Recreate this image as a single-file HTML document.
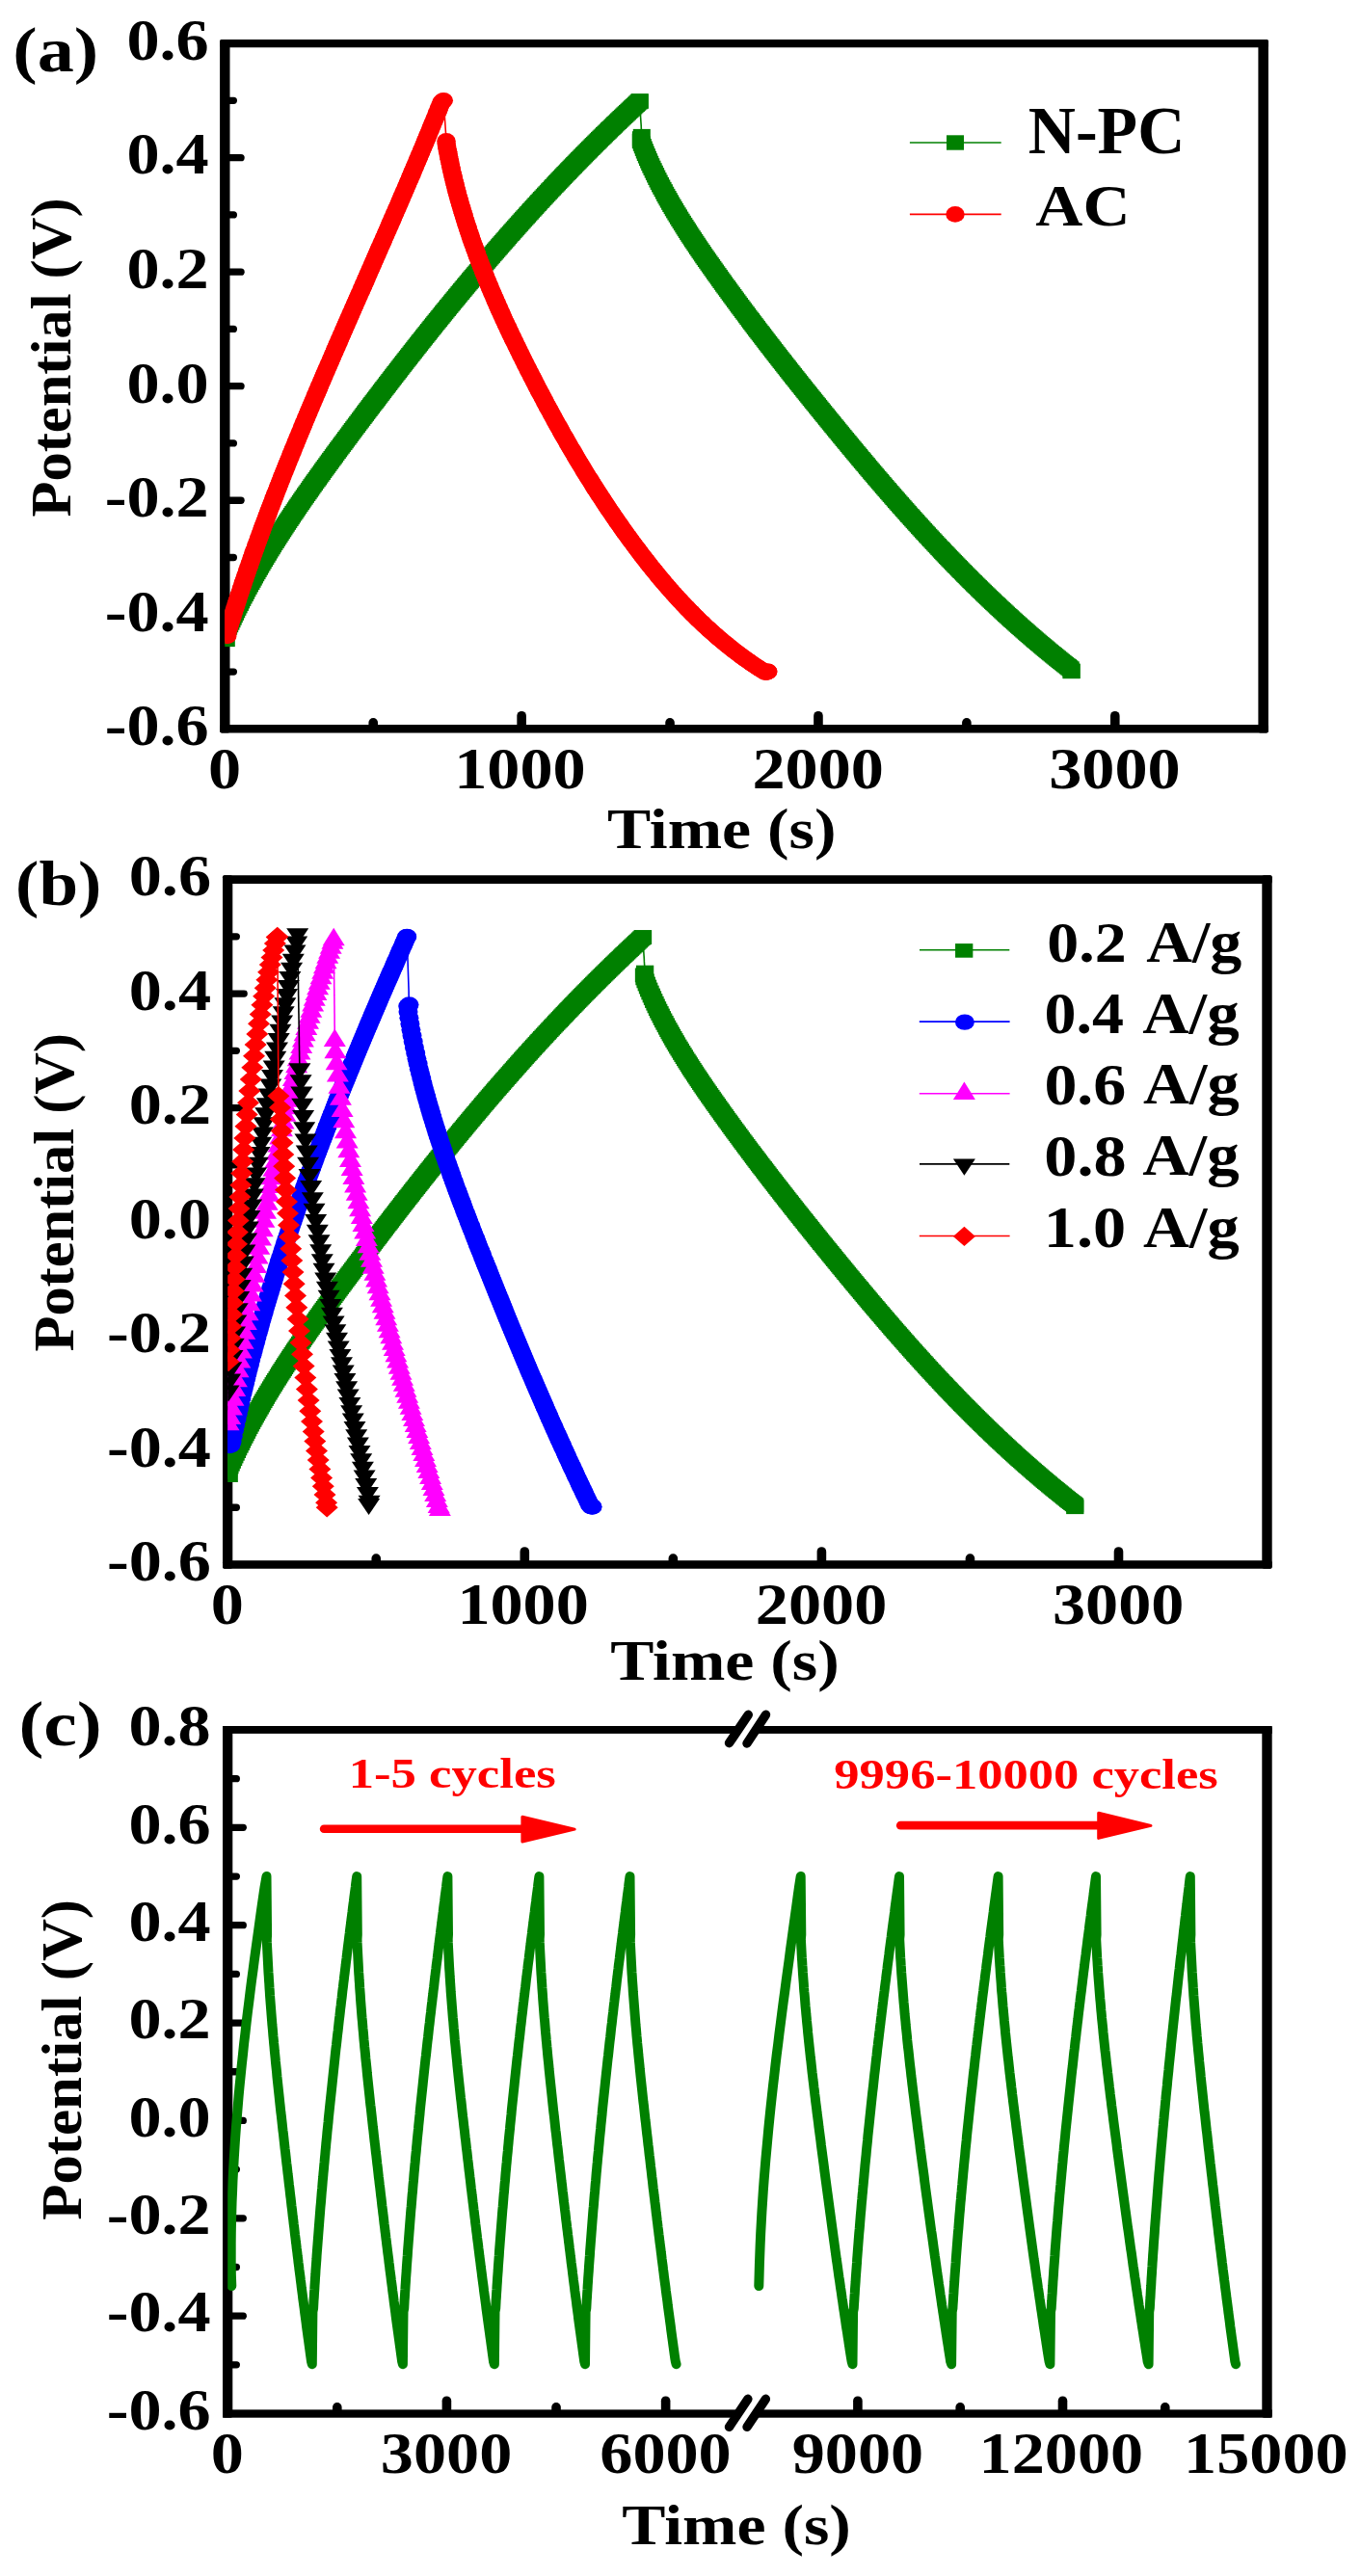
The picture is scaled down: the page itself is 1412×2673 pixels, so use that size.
<!DOCTYPE html><html><head><meta charset="utf-8"><title>GCD curves</title><style>html,body{margin:0;padding:0;background:#fff;}svg{display:block;}text{font-family:"Liberation Serif",serif;font-weight:bold;}</style></head><body><svg width="1412" height="2673" viewBox="0 0 1412 2673"><defs><marker id="mSqG" markerUnits="userSpaceOnUse" markerWidth="40" markerHeight="40" viewBox="-20 -20 40 40" refX="0" refY="0" overflow="visible"><rect x="-9.0" y="-7.7" width="18" height="15.4" fill="#008000"/></marker><marker id="mCiR" markerUnits="userSpaceOnUse" markerWidth="40" markerHeight="40" viewBox="-20 -20 40 40" refX="0" refY="0" overflow="visible"><ellipse cx="0" cy="0" rx="9.7" ry="8.3" fill="#FF0000"/></marker><marker id="mSqGb" markerUnits="userSpaceOnUse" markerWidth="40" markerHeight="40" viewBox="-20 -20 40 40" refX="0" refY="0" overflow="visible"><rect x="-9.15" y="-7.4" width="18.3" height="14.8" fill="#008000"/></marker><marker id="mCiB" markerUnits="userSpaceOnUse" markerWidth="40" markerHeight="40" viewBox="-20 -20 40 40" refX="0" refY="0" overflow="visible"><ellipse cx="0" cy="0" rx="10" ry="8.2" fill="#0000FF"/></marker><marker id="mTrM" markerUnits="userSpaceOnUse" markerWidth="40" markerHeight="40" viewBox="-20 -20 40 40" refX="0" refY="0" overflow="visible"><polygon points="0,-9.25 11.5,9.25 -11.5,9.25" fill="#FF00FF"/></marker><marker id="mTrK" markerUnits="userSpaceOnUse" markerWidth="40" markerHeight="40" viewBox="-20 -20 40 40" refX="0" refY="0" overflow="visible"><polygon points="0,8.6 11.5,-8.6 -11.5,-8.6" fill="#000000"/></marker><marker id="mDiR" markerUnits="userSpaceOnUse" markerWidth="40" markerHeight="40" viewBox="-20 -20 40 40" refX="0" refY="0" overflow="visible"><polygon points="0,-10.2 11.5,0 0,10.2 -11.5,0" fill="#FF0000"/></marker></defs>
<rect width="1412" height="2673" fill="#fff"/>
<g fill="#000">
<rect x="228.1" y="41.1" width="10.40" height="719.40" rx="2"/>
<rect x="1305.4" y="41.1" width="10.50" height="719.40" rx="2"/>
<rect x="228.1" y="41.1" width="1087.80" height="8.10" rx="2"/>
<rect x="228.1" y="752.0" width="1087.80" height="8.50" rx="2"/>
<rect x="231.0" y="908.2" width="10.30" height="719.50" rx="2"/>
<rect x="1309.3" y="908.2" width="10.40" height="719.50" rx="2"/>
<rect x="231.0" y="908.2" width="1088.70" height="8.80" rx="2"/>
<rect x="231.0" y="1619.3" width="1088.70" height="8.40" rx="2"/>
<rect x="231.0" y="1791.0" width="10.30" height="717.70" rx="2"/>
<rect x="1309.3" y="1791.0" width="10.40" height="717.70" rx="2"/>
<rect x="231.0" y="1791.0" width="535.50" height="7.90"/>
<rect x="784.5" y="1791.0" width="535.20" height="7.90"/>
<rect x="231.0" y="2500.4" width="535.50" height="8.30"/>
<rect x="784.5" y="2500.4" width="535.20" height="8.30"/>
</g>
<g stroke="#000" stroke-width="7.3" stroke-linecap="round"><line x1="236.5" y1="163.63" x2="250.05" y2="163.63"/><line x1="236.5" y1="282.17" x2="250.05" y2="282.17"/><line x1="236.5" y1="400.70" x2="250.05" y2="400.70"/><line x1="236.5" y1="519.23" x2="250.05" y2="519.23"/><line x1="236.5" y1="637.77" x2="250.05" y2="637.77"/><line x1="236.5" y1="104.37" x2="242.35" y2="104.37"/><line x1="236.5" y1="222.90" x2="242.35" y2="222.90"/><line x1="236.5" y1="341.43" x2="242.35" y2="341.43"/><line x1="236.5" y1="459.97" x2="242.35" y2="459.97"/><line x1="236.5" y1="578.50" x2="242.35" y2="578.50"/><line x1="236.5" y1="697.03" x2="242.35" y2="697.03"/></g>
<g stroke="#000" stroke-width="9.6" stroke-linecap="round"><line x1="541.13" y1="754.0" x2="541.13" y2="742.70"/><line x1="848.96" y1="754.0" x2="848.96" y2="742.70"/><line x1="1156.79" y1="754.0" x2="1156.79" y2="742.70"/><line x1="387.22" y1="754.0" x2="387.22" y2="749.80"/><line x1="695.05" y1="754.0" x2="695.05" y2="749.80"/><line x1="1002.88" y1="754.0" x2="1002.88" y2="749.80"/></g>
<g stroke="#000" stroke-width="7.3" stroke-linecap="round"><line x1="239.3" y1="1031.09" x2="253.15" y2="1031.09"/><line x1="239.3" y1="1149.57" x2="253.15" y2="1149.57"/><line x1="239.3" y1="1268.05" x2="253.15" y2="1268.05"/><line x1="239.3" y1="1386.53" x2="253.15" y2="1386.53"/><line x1="239.3" y1="1505.01" x2="253.15" y2="1505.01"/><line x1="239.3" y1="971.85" x2="245.35" y2="971.85"/><line x1="239.3" y1="1090.33" x2="245.35" y2="1090.33"/><line x1="239.3" y1="1208.81" x2="245.35" y2="1208.81"/><line x1="239.3" y1="1327.29" x2="245.35" y2="1327.29"/><line x1="239.3" y1="1445.77" x2="245.35" y2="1445.77"/><line x1="239.3" y1="1564.25" x2="245.35" y2="1564.25"/></g>
<g stroke="#000" stroke-width="9.6" stroke-linecap="round"><line x1="544.30" y1="1621.3" x2="544.30" y2="1610.00"/><line x1="852.40" y1="1621.3" x2="852.40" y2="1610.00"/><line x1="1160.50" y1="1621.3" x2="1160.50" y2="1610.00"/><line x1="390.25" y1="1621.3" x2="390.25" y2="1617.10"/><line x1="698.35" y1="1621.3" x2="698.35" y2="1617.10"/><line x1="1006.45" y1="1621.3" x2="1006.45" y2="1617.10"/></g>
<g stroke="#000" stroke-width="7.3" stroke-linecap="round"><line x1="239.3" y1="1896.36" x2="252.35" y2="1896.36"/><line x1="239.3" y1="1997.72" x2="252.35" y2="1997.72"/><line x1="239.3" y1="2099.08" x2="252.35" y2="2099.08"/><line x1="239.3" y1="2200.44" x2="252.35" y2="2200.44"/><line x1="239.3" y1="2301.80" x2="252.35" y2="2301.80"/><line x1="239.3" y1="2403.16" x2="252.35" y2="2403.16"/><line x1="239.3" y1="1845.68" x2="245.35" y2="1845.68"/><line x1="239.3" y1="1947.04" x2="245.35" y2="1947.04"/><line x1="239.3" y1="2048.40" x2="245.35" y2="2048.40"/><line x1="239.3" y1="2149.76" x2="245.35" y2="2149.76"/><line x1="239.3" y1="2251.12" x2="245.35" y2="2251.12"/><line x1="239.3" y1="2352.48" x2="245.35" y2="2352.48"/><line x1="239.3" y1="2453.84" x2="245.35" y2="2453.84"/></g>
<g stroke="#000" stroke-width="9.6" stroke-linecap="round"><line x1="463.42" y1="2502.4" x2="463.42" y2="2491.20"/><line x1="690.64" y1="2502.4" x2="690.64" y2="2491.20"/><line x1="889.90" y1="2502.4" x2="889.90" y2="2491.20"/><line x1="1102.50" y1="2502.4" x2="1102.50" y2="2491.20"/><line x1="349.81" y1="2502.4" x2="349.81" y2="2497.80"/><line x1="577.03" y1="2502.4" x2="577.03" y2="2497.80"/><line x1="996.20" y1="2502.4" x2="996.20" y2="2497.80"/><line x1="1208.80" y1="2502.4" x2="1208.80" y2="2497.80"/></g>
<g stroke="#000" stroke-width="9.4" stroke-linecap="round">
<line x1="756.5" y1="1808.7" x2="776.3" y2="1779.3"/>
<line x1="775" y1="1809" x2="794.5" y2="1779.3"/>
<line x1="756.5" y1="2518.4" x2="775.9" y2="2489.3"/>
<line x1="775" y1="2518.4" x2="794.4" y2="2489.3"/>
</g>
<defs><clipPath id="clipA"><rect x="233.3" y="45" width="1077.4" height="711.3"/></clipPath><clipPath id="clipB"><rect x="236.2" y="912.6" width="1078.3" height="710.9"/></clipPath><clipPath id="clipC"><rect x="236.2" y="1795" width="1078.3" height="709.5"/></clipPath></defs>
<g clip-path="url(#clipA)">
<polyline points="234.8,663.4 233.6,660.7 234.1,657.9 235.3,655.2 236.5,652.4 237.7,649.7 238.9,646.9 240.2,644.2 241.4,641.5 242.7,638.8 244.0,636.1 245.3,633.4 246.6,630.7 248.0,628.0 249.3,625.3 250.7,622.6 252.0,620.0 253.4,617.3 254.8,614.6 256.2,612.0 257.6,609.3 259.0,606.7 260.5,604.1 261.9,601.4 263.4,598.8 264.9,596.2 266.3,593.6 267.8,591.0 269.3,588.4 270.8,585.8 272.4,583.2 273.9,580.6 275.4,578.0 277.0,575.5 278.5,572.9 280.1,570.3 281.7,567.8 283.2,565.2 284.8,562.7 286.4,560.2 288.0,557.6 289.6,555.1 291.3,552.6 292.9,550.0 294.5,547.5 296.1,545.0 297.8,542.5 299.4,540.0 301.1,537.5 302.8,535.0 304.4,532.5 306.1,530.0 307.8,527.5 309.5,525.1 311.2,522.6 312.9,520.1 314.6,517.6 316.3,515.2 318.0,512.7 319.7,510.2 321.4,507.8 323.2,505.3 324.9,502.9 326.6,500.4 328.4,498.0 330.1,495.5 331.8,493.1 333.6,490.7 335.4,488.2 337.1,485.8 338.9,483.4 340.6,480.9 342.4,478.5 344.2,476.1 345.9,473.7 347.7,471.3 349.5,468.8 351.3,466.4 353.0,464.0 354.8,461.6 356.6,459.2 358.4,456.8 360.2,454.4 362.0,452.0 363.8,449.5 365.5,447.1 367.3,444.7 369.1,442.3 370.9,439.9 372.7,437.5 374.5,435.1 376.3,432.7 378.1,430.3 379.9,427.9 381.7,425.5 383.5,423.1 385.3,420.7 387.1,418.3 389.0,415.9 390.8,413.6 392.6,411.2 394.4,408.8 396.2,406.4 398.0,404.0 399.9,401.6 401.7,399.2 403.5,396.9 405.3,394.5 407.2,392.1 409.0,389.7 410.8,387.3 412.6,385.0 414.5,382.6 416.3,380.2 418.2,377.8 420.0,375.5 421.8,373.1 423.7,370.7 425.5,368.4 427.4,366.0 429.2,363.7 431.1,361.3 432.9,358.9 434.8,356.6 436.7,354.2 438.5,351.9 440.4,349.5 442.2,347.2 444.1,344.8 446.0,342.5 447.9,340.1 449.7,337.8 451.6,335.5 453.5,333.1 455.4,330.8 457.2,328.4 459.1,326.1 461.0,323.8 462.9,321.5 464.8,319.1 466.7,316.8 468.6,314.5 470.5,312.2 472.4,309.8 474.3,307.5 476.2,305.2 478.1,302.9 480.0,300.6 482.0,298.3 483.9,296.0 485.8,293.7 487.7,291.4 489.7,289.1 491.6,286.8 493.5,284.5 495.4,282.2 497.4,279.9 499.3,277.6 501.3,275.3 503.2,273.0 505.2,270.8 507.1,268.5 509.1,266.2 511.0,263.9 513.0,261.7 515.0,259.4 516.9,257.1 518.9,254.9 520.9,252.6 522.8,250.3 524.8,248.1 526.8,245.8 528.8,243.6 530.8,241.3 532.7,239.1 534.7,236.8 536.7,234.6 538.7,232.4 540.7,230.1 542.7,227.9 544.8,225.7 546.8,223.4 548.8,221.2 550.8,219.0 552.8,216.8 554.8,214.6 556.9,212.4 558.9,210.1 560.9,207.9 563.0,205.7 565.0,203.5 567.0,201.3 569.1,199.1 571.1,197.0 573.2,194.8 575.3,192.6 577.3,190.4 579.4,188.2 581.4,186.0 583.5,183.9 585.6,181.7 587.7,179.5 589.7,177.4 591.8,175.2 593.9,173.1 596.0,170.9 598.1,168.8 600.2,166.6 602.3,164.5 604.4,162.3 606.5,160.2 608.6,158.1 610.7,155.9 612.8,153.8 615.0,151.7 617.1,149.6 619.2,147.5 621.3,145.3 623.5,143.2 625.6,141.1 627.8,139.0 629.9,136.9 632.0,134.8 634.2,132.7 636.3,130.7 638.5,128.6 640.7,126.5 642.8,124.4 645.0,122.3 647.2,120.3 649.4,118.2 651.5,116.1 653.7,114.1 655.9,112.0 658.1,110.0 660.3,107.9 662.5,105.9 663.8,106.5 664.0,109.5 664.1,112.5 664.3,115.5 664.5,118.5 664.6,121.5 664.8,124.5 665.0,127.5 665.2,130.4 665.3,133.4 665.5,136.4 665.7,139.4 665.5,142.4 664.4,145.2 665.4,148.0 666.4,150.8 667.5,153.6 668.6,156.4 669.8,159.1 670.9,161.9 672.1,164.7 673.3,167.4 674.6,170.1 675.8,172.9 677.1,175.6 678.3,178.3 679.6,181.0 681.0,183.7 682.3,186.4 683.7,189.1 685.0,191.7 686.4,194.4 687.8,197.0 689.3,199.7 690.7,202.3 692.2,204.9 693.6,207.5 695.1,210.2 696.6,212.8 698.1,215.3 699.6,217.9 701.2,220.5 702.7,223.1 704.3,225.6 705.9,228.2 707.4,230.7 709.0,233.3 710.6,235.8 712.2,238.4 713.9,240.9 715.5,243.4 717.1,245.9 718.8,248.4 720.4,250.9 722.1,253.4 723.8,255.9 725.5,258.4 727.1,260.9 728.8,263.4 730.5,265.8 732.2,268.3 733.9,270.8 735.7,273.2 737.4,275.7 739.1,278.1 740.8,280.6 742.6,283.0 744.3,285.5 746.1,287.9 747.8,290.4 749.6,292.8 751.3,295.2 753.1,297.7 754.8,300.1 756.6,302.5 758.4,304.9 760.1,307.4 761.9,309.8 763.7,312.2 765.5,314.6 767.2,317.0 769.0,319.4 770.8,321.8 772.6,324.2 774.4,326.7 776.2,329.1 778.0,331.5 779.8,333.9 781.6,336.3 783.4,338.6 785.2,341.0 787.0,343.4 788.9,345.8 790.7,348.2 792.5,350.6 794.3,353.0 796.1,355.3 798.0,357.7 799.8,360.1 801.6,362.5 803.5,364.8 805.3,367.2 807.1,369.6 809.0,372.0 810.8,374.3 812.7,376.7 814.5,379.0 816.4,381.4 818.2,383.8 820.1,386.1 822.0,388.5 823.8,390.8 825.7,393.2 827.5,395.5 829.4,397.9 831.3,400.2 833.1,402.6 835.0,404.9 836.9,407.3 838.8,409.6 840.6,412.0 842.5,414.3 844.4,416.6 846.3,419.0 848.2,421.3 850.0,423.6 851.9,426.0 853.8,428.3 855.7,430.6 857.6,433.0 859.5,435.3 861.4,437.6 863.3,439.9 865.2,442.3 867.1,444.6 869.0,446.9 870.9,449.2 872.8,451.6 874.7,453.9 876.6,456.2 878.5,458.5 880.4,460.8 882.3,463.1 884.2,465.4 886.1,467.7 888.1,470.1 890.0,472.4 891.9,474.7 893.8,477.0 895.8,479.3 897.7,481.6 899.6,483.9 901.5,486.1 903.5,488.4 905.4,490.7 907.4,493.0 909.3,495.3 911.3,497.6 913.2,499.9 915.2,502.1 917.1,504.4 919.1,506.7 921.0,509.0 923.0,511.2 925.0,513.5 926.9,515.8 928.9,518.0 930.9,520.3 932.9,522.5 934.8,524.8 936.8,527.0 938.8,529.3 940.8,531.5 942.8,533.8 944.8,536.0 946.8,538.2 948.8,540.5 950.8,542.7 952.8,544.9 954.8,547.1 956.9,549.4 958.9,551.6 960.9,553.8 962.9,556.0 965.0,558.2 967.0,560.4 969.1,562.6 971.1,564.8 973.2,567.0 975.2,569.2 977.3,571.3 979.3,573.5 981.4,575.7 983.5,577.9 985.6,580.0 987.6,582.2 989.7,584.3 991.8,586.5 993.9,588.6 996.0,590.8 998.1,592.9 1000.2,595.1 1002.3,597.2 1004.4,599.3 1006.6,601.4 1008.7,603.6 1010.8,605.7 1013.0,607.8 1015.1,609.9 1017.2,612.0 1019.4,614.1 1021.5,616.2 1023.7,618.2 1025.9,620.3 1028.0,622.4 1030.2,624.5 1032.4,626.5 1034.6,628.6 1036.8,630.6 1039.0,632.7 1041.2,634.7 1043.4,636.7 1045.6,638.8 1047.8,640.8 1050.0,642.8 1052.2,644.8 1054.5,646.8 1056.7,648.8 1058.9,650.8 1061.2,652.8 1063.4,654.8 1065.7,656.8 1068.0,658.8 1070.2,660.7 1072.5,662.7 1074.8,664.6 1077.1,666.6 1079.3,668.5 1081.6,670.4 1083.9,672.4 1086.2,674.3 1088.6,676.2 1090.9,678.1 1093.2,680.0 1095.5,681.9 1097.8,683.8 1100.2,685.7 1102.5,687.5 1104.9,689.4 1107.2,691.3 1109.6,693.1 1111.6,695.2" fill="none" stroke="#008000" stroke-width="1.6"/><polyline points="234.8,663.4 233.8,661.1 233.8,658.6 234.9,656.1 236.0,653.6 237.1,651.0 238.2,648.5 239.4,646.0 240.5,643.5 241.7,641.0 242.8,638.5 244.0,636.1 245.2,633.6 246.4,631.1 247.6,628.7 248.9,626.2 250.1,623.7 251.3,621.3 252.6,618.8 253.9,616.4 255.2,614.0 256.4,611.5 257.7,609.1 259.0,606.7 260.4,604.3 261.6,602.1 262.8,599.9 264.0,597.7 265.2,595.5 266.5,593.4 267.7,591.2 269.0,589.0 270.2,586.9 271.5,584.7 272.7,582.6 274.0,580.4 275.3,578.3 276.6,576.1 277.9,574.0 279.2,571.8 280.5,569.7 281.8,567.6 283.1,565.5 284.4,563.3 285.8,561.2 287.1,559.1 288.3,557.2 289.5,555.3 290.7,553.4 291.9,551.5 293.2,549.6 294.4,547.7 295.6,545.8 296.8,544.0 298.1,542.1 299.3,540.2 300.6,538.3 301.8,536.5 303.0,534.6 304.3,532.7 305.6,530.9 306.8,529.0 308.1,527.1 309.3,525.3 310.6,523.4 311.9,521.5 313.2,519.7 314.4,517.8 315.7,516.0 317.0,514.1 318.3,512.3 319.6,510.5 320.9,508.6 322.2,506.8 323.4,504.9 324.7,503.1 326.0,501.3 327.3,499.4 328.7,497.6 330.0,495.8 331.3,493.9 332.6,492.1 333.9,490.3 335.2,488.4 336.5,486.6 337.8,484.8 339.2,483.0 340.5,481.1 341.8,479.3 343.1,477.5 344.5,475.7 345.8,473.9 347.1,472.1 348.4,470.2 349.8,468.4 351.1,466.6 352.4,464.8 353.8,463.0 355.1,461.2 356.5,459.4 357.8,457.6 359.1,455.8 360.5,454.0 361.8,452.2 363.2,450.3 364.5,448.5 365.8,446.7 367.2,444.9 368.5,443.1 369.9,441.3 371.2,439.5 372.6,437.7 373.9,435.9 375.3,434.1 376.6,432.3 377.8,430.7 379.0,429.1 380.2,427.5 381.4,425.9 382.6,424.3 383.8,422.7 385.0,421.1 386.2,419.5 387.5,417.9 388.7,416.3 389.9,414.8 391.1,413.2 392.3,411.6 393.5,410.0 394.7,408.4 395.9,406.8 397.1,405.2 398.3,403.6 399.6,402.0 400.8,400.4 402.0,398.8 403.2,397.3 404.4,395.7 405.6,394.1 406.8,392.5 408.1,390.9 409.3,389.3 410.5,387.7 411.7,386.2 413.0,384.6 414.2,383.0 415.4,381.4 416.6,379.8 417.8,378.2 419.1,376.7 420.3,375.1 421.5,373.5 422.8,371.9 424.0,370.4 425.2,368.8 426.5,367.2 427.7,365.6 428.9,364.1 430.2,362.5 431.4,360.9 432.6,359.3 433.9,357.8 435.1,356.2 436.3,354.6 437.6,353.1 438.8,351.5 440.1,349.9 441.3,348.3 442.6,346.8 443.8,345.2 445.0,343.7 446.3,342.1 447.5,340.5 448.8,339.0 450.0,337.4 451.3,335.8 452.5,334.3 453.8,332.7 455.1,331.2 456.3,329.6 457.6,328.1 458.8,326.5 460.1,324.9 461.3,323.4 462.6,321.8 463.9,320.3 465.1,318.7 466.4,317.2 467.7,315.6 468.9,314.1 470.2,312.5 471.5,311.0 472.7,309.5 474.0,307.9 475.3,306.4 476.5,304.8 477.8,303.3 479.1,301.7 480.4,300.2 481.6,298.7 482.9,297.1 484.2,295.6 485.5,294.0 486.8,292.5 488.0,291.0 489.3,289.4 490.6,287.9 491.9,286.4 493.2,284.9 494.5,283.3 495.8,281.8 497.1,280.3 498.4,278.7 499.7,277.2 500.9,275.7 502.2,274.2 503.5,272.7 504.8,271.1 506.1,269.6 507.4,268.1 508.7,266.6 510.0,265.1 511.4,263.5 512.7,262.0 514.0,260.5 515.3,259.0 516.6,257.5 517.9,256.0 519.2,254.5 520.5,253.0 521.8,251.5 523.2,250.0 524.5,248.5 525.8,247.0 527.1,245.4 528.4,243.9 529.8,242.4 531.1,241.0 532.4,239.5 533.7,238.0 535.1,236.5 536.4,235.0 537.7,233.5 539.1,232.0 540.4,230.5 541.7,229.0 543.1,227.5 544.4,226.0 545.8,224.6 547.1,223.1 548.4,221.6 549.8,220.1 551.1,218.6 552.5,217.1 553.8,215.7 555.2,214.2 556.5,212.7 557.9,211.2 559.2,209.8 560.6,208.3 561.9,206.8 563.3,205.4 564.7,203.9 566.0,202.4 567.4,201.0 568.8,199.5 570.1,198.0 571.5,196.6 572.9,195.1 574.2,193.7 575.6,192.2 576.8,190.9 578.0,189.7 579.2,188.4 580.4,187.1 581.6,185.9 582.8,184.6 584.0,183.3 585.2,182.1 586.4,180.8 587.7,179.5 588.9,178.3 590.1,177.0 591.3,175.8 592.5,174.5 593.7,173.2 595.0,172.0 596.2,170.7 597.4,169.5 598.6,168.2 599.8,167.0 601.1,165.7 602.3,164.5 603.5,163.2 604.7,162.0 606.0,160.7 607.2,159.5 608.4,158.2 609.7,157.0 610.9,155.8 612.1,154.5 613.4,153.3 614.6,152.0 615.8,150.8 617.1,149.6 618.3,148.3 619.6,147.1 620.8,145.9 622.0,144.6 623.3,143.4 624.5,142.2 625.8,141.0 627.0,139.7 628.3,138.5 629.5,137.3 630.8,136.1 632.0,134.8 633.3,133.6 634.6,132.4 635.8,131.2 637.1,130.0 638.3,128.7 639.6,127.5 640.9,126.3 642.1,125.1 643.4,123.9 644.6,122.7 645.9,121.5 647.2,120.3 648.4,119.1 649.7,117.9 651.0,116.7 652.3,115.5 653.5,114.3 654.8,113.1 656.1,111.9 657.4,110.7 658.6,109.5 659.9,108.3 661.2,107.1 662.5,105.9 663.7,105.0 663.7,105.0 665.8,141.6 664.9,143.9 664.8,146.5 665.8,149.1 666.8,151.6 667.8,154.2 668.8,156.8 669.8,159.3 670.9,161.8 672.0,164.4 673.1,166.9 674.2,169.4 675.3,171.9 676.5,174.4 677.7,176.9 678.9,179.4 680.1,181.8 681.3,184.3 682.5,186.8 683.7,189.2 685.0,191.7 686.3,194.1 687.6,196.5 688.9,198.9 690.2,201.4 691.4,203.6 692.6,205.7 693.8,207.9 695.1,210.1 696.3,212.3 697.6,214.4 698.8,216.6 700.1,218.7 701.4,220.9 702.7,223.0 704.0,225.1 705.3,227.3 706.6,229.4 707.9,231.5 709.3,233.6 710.5,235.6 711.7,237.5 712.9,239.3 714.1,241.2 715.3,243.1 716.5,245.0 717.8,246.9 719.0,248.8 720.3,250.6 721.5,252.5 722.8,254.4 724.0,256.3 725.3,258.1 726.5,260.0 727.8,261.8 729.1,263.7 730.3,265.6 731.6,267.4 732.9,269.3 734.2,271.1 735.5,273.0 736.8,274.8 738.1,276.6 739.4,278.5 740.7,280.3 742.0,282.2 743.3,284.0 744.6,285.8 745.9,287.6 747.2,289.5 748.5,291.3 749.8,293.1 751.1,295.0 752.4,296.8 753.8,298.6 755.1,300.4 756.4,302.2 757.7,304.1 759.1,305.9 760.4,307.7 761.7,309.5 763.0,311.3 764.4,313.1 765.7,315.0 767.0,316.8 768.4,318.6 769.7,320.4 771.1,322.2 772.4,324.0 773.8,325.8 775.1,327.6 776.4,329.4 777.8,331.2 779.0,332.8 780.2,334.4 781.4,336.0 782.6,337.6 783.8,339.2 785.0,340.8 786.2,342.4 787.4,344.0 788.7,345.6 789.9,347.1 791.1,348.7 792.3,350.3 793.5,351.9 794.7,353.5 795.9,355.1 797.2,356.7 798.4,358.3 799.6,359.8 800.8,361.4 802.0,363.0 803.3,364.6 804.5,366.2 805.7,367.8 806.9,369.3 808.2,370.9 809.4,372.5 810.6,374.1 811.9,375.6 813.1,377.2 814.3,378.8 815.6,380.4 816.8,381.9 818.0,383.5 819.3,385.1 820.5,386.7 821.7,388.2 823.0,389.8 824.2,391.4 825.5,392.9 826.7,394.5 828.0,396.1 829.2,397.6 830.4,399.2 831.7,400.8 832.9,402.3 834.2,403.9 835.4,405.5 836.7,407.0 837.9,408.6 839.2,410.1 840.4,411.7 841.7,413.3 842.9,414.8 844.2,416.4 845.4,417.9 846.7,419.5 848.0,421.0 849.2,422.6 850.5,424.2 851.7,425.7 853.0,427.3 854.2,428.8 855.5,430.4 856.8,431.9 858.0,433.5 859.3,435.0 860.5,436.6 861.8,438.1 863.1,439.7 864.3,441.2 865.6,442.8 866.9,444.3 868.1,445.9 869.4,447.4 870.7,449.0 871.9,450.5 873.2,452.1 874.5,453.6 875.7,455.2 877.0,456.7 878.3,458.2 879.6,459.8 880.8,461.3 882.1,462.9 883.4,464.4 884.7,466.0 885.9,467.5 887.2,469.0 888.5,470.6 889.8,472.1 891.1,473.6 892.3,475.2 893.6,476.7 894.9,478.2 896.2,479.8 897.5,481.3 898.8,482.8 900.0,484.4 901.3,485.9 902.6,487.4 903.9,489.0 905.2,490.5 906.5,492.0 907.8,493.5 909.1,495.1 910.4,496.6 911.7,498.1 913.0,499.6 914.3,501.1 915.6,502.7 916.9,504.2 918.2,505.7 919.5,507.2 920.8,508.7 922.1,510.2 923.4,511.7 924.7,513.2 926.1,514.8 927.4,516.3 928.7,517.8 930.0,519.3 931.3,520.8 932.6,522.3 934.0,523.8 935.3,525.3 936.6,526.8 937.9,528.3 939.3,529.8 940.6,531.3 941.9,532.8 943.2,534.3 944.6,535.8 945.9,537.2 947.2,538.7 948.6,540.2 949.9,541.7 951.3,543.2 952.6,544.7 954.0,546.2 955.3,547.6 956.6,549.1 958.0,550.6 959.3,552.1 960.7,553.5 962.0,555.0 963.4,556.5 964.8,558.0 966.1,559.4 967.5,560.9 968.8,562.3 970.2,563.8 971.6,565.3 972.9,566.7 974.3,568.2 975.7,569.6 976.9,570.9 978.1,572.2 979.3,573.5 980.5,574.7 981.7,576.0 982.9,577.3 984.1,578.5 985.3,579.8 986.5,581.0 987.8,582.3 989.0,583.6 990.2,584.8 991.4,586.1 992.6,587.3 993.9,588.6 995.1,589.8 996.3,591.1 997.5,592.3 998.8,593.6 1000.0,594.8 1001.2,596.1 1002.5,597.3 1003.7,598.6 1004.9,599.8 1006.2,601.0 1007.4,602.3 1008.6,603.5 1009.9,604.7 1011.1,606.0 1012.4,607.2 1013.6,608.4 1014.9,609.6 1016.1,610.9 1017.4,612.1 1018.6,613.3 1019.9,614.5 1021.1,615.8 1022.4,617.0 1023.7,618.2 1024.9,619.4 1026.2,620.6 1027.4,621.8 1028.7,623.0 1030.0,624.2 1031.2,625.4 1032.5,626.6 1033.8,627.8 1035.1,629.0 1036.3,630.2 1037.6,631.4 1038.9,632.6 1040.2,633.8 1041.5,635.0 1042.8,636.2 1044.0,637.4 1045.3,638.6 1046.6,639.7 1047.9,640.9 1049.2,642.1 1050.5,643.3 1051.8,644.4 1053.1,645.6 1054.4,646.8 1055.7,648.0 1057.0,649.1 1058.3,650.3 1059.6,651.4 1060.9,652.6 1062.3,653.8 1063.6,654.9 1064.9,656.1 1066.2,657.2 1067.5,658.4 1068.8,659.5 1070.2,660.7 1071.5,661.8 1072.8,663.0 1074.1,664.1 1075.5,665.2 1076.8,666.4 1078.1,667.5 1079.5,668.6 1080.8,669.8 1082.2,670.9 1083.5,672.0 1084.8,673.1 1086.2,674.2 1087.5,675.4 1088.9,676.5 1090.2,677.6 1091.6,678.7 1092.9,679.8 1094.3,680.9 1095.6,682.0 1097.0,683.1 1098.4,684.2 1099.7,685.3 1101.1,686.4 1102.5,687.5 1103.8,688.6 1105.2,689.7 1106.6,690.8 1108.0,691.8 1109.3,692.9 1110.7,694.0 1111.6,696.3 1111.6,696.5" fill="none" stroke="none" marker-start="url(#mSqG)" marker-mid="url(#mSqG)" marker-end="url(#mSqG)"/>
<polyline points="235.8,659.9 235.7,657.0 236.6,654.1 237.4,651.3 238.3,648.4 239.2,645.5 240.1,642.7 241.0,639.8 241.9,637.0 242.8,634.1 243.7,631.2 244.6,628.4 245.5,625.5 246.5,622.7 247.4,619.8 248.3,617.0 249.3,614.1 250.2,611.3 251.1,608.4 252.1,605.6 253.1,602.7 254.0,599.9 255.0,597.1 256.0,594.2 256.9,591.4 257.9,588.5 258.9,585.7 259.9,582.9 260.9,580.0 261.9,577.2 262.9,574.4 263.9,571.6 264.9,568.7 265.9,565.9 266.9,563.1 267.9,560.3 269.0,557.4 270.0,554.6 271.0,551.8 272.1,549.0 273.1,546.2 274.1,543.4 275.2,540.6 276.2,537.7 277.3,534.9 278.4,532.1 279.4,529.3 280.5,526.5 281.5,523.7 282.6,520.9 283.7,518.1 284.8,515.3 285.8,512.5 286.9,509.7 288.0,506.9 289.1,504.1 290.2,501.3 291.3,498.5 292.4,495.7 293.5,493.0 294.6,490.2 295.7,487.4 296.8,484.6 297.9,481.8 299.1,479.0 300.2,476.2 301.3,473.5 302.4,470.7 303.5,467.9 304.7,465.1 305.8,462.3 306.9,459.6 308.1,456.8 309.2,454.0 310.4,451.2 311.5,448.5 312.6,445.7 313.8,442.9 314.9,440.1 316.1,437.4 317.2,434.6 318.4,431.8 319.6,429.1 320.7,426.3 321.9,423.5 323.0,420.8 324.2,418.0 325.4,415.2 326.5,412.5 327.7,409.7 328.9,407.0 330.1,404.2 331.2,401.4 332.4,398.7 333.6,395.9 334.8,393.2 335.9,390.4 337.1,387.6 338.3,384.9 339.5,382.1 340.7,379.4 341.9,376.6 343.1,373.9 344.2,371.1 345.4,368.4 346.6,365.6 347.8,362.9 349.0,360.1 350.2,357.3 351.4,354.6 352.6,351.8 353.8,349.1 355.0,346.3 356.2,343.6 357.4,340.8 358.6,338.1 359.8,335.3 361.0,332.6 362.2,329.8 363.4,327.1 364.6,324.4 365.8,321.6 367.0,318.9 368.2,316.1 369.4,313.4 370.6,310.6 371.8,307.9 373.0,305.1 374.3,302.4 375.5,299.6 376.7,296.9 377.9,294.1 379.1,291.4 380.3,288.6 381.5,285.9 382.7,283.1 383.9,280.4 385.1,277.6 386.3,274.9 387.5,272.2 388.7,269.4 389.9,266.7 391.1,263.9 392.3,261.2 393.5,258.4 394.7,255.7 395.9,252.9 397.1,250.2 398.3,247.4 399.5,244.7 400.7,241.9 401.9,239.2 403.1,236.4 404.3,233.7 405.5,230.9 406.7,228.2 407.9,225.4 409.1,222.7 410.3,219.9 411.5,217.2 412.7,214.4 413.9,211.6 415.1,208.9 416.2,206.1 417.4,203.4 418.6,200.6 419.8,197.9 421.0,195.1 422.2,192.4 423.3,189.6 424.5,186.8 425.7,184.1 426.9,181.3 428.0,178.6 429.2,175.8 430.4,173.0 431.5,170.3 432.7,167.5 433.9,164.7 435.0,162.0 436.2,159.2 437.4,156.4 438.5,153.7 439.7,150.9 440.8,148.1 442.0,145.4 443.1,142.6 444.3,139.8 445.4,137.0 446.5,134.3 447.7,131.5 448.8,128.7 450.0,125.9 451.1,123.2 452.2,120.4 453.3,117.6 454.5,114.8 455.6,112.0 456.7,109.3 457.8,106.5 459.8,104.5 460.5,106.8 460.7,109.7 460.8,112.7 461.0,115.7 461.2,118.7 461.4,121.7 461.6,124.7 461.8,127.7 462.0,130.7 462.2,133.7 462.4,136.7 462.6,139.7 462.8,142.7 463.0,145.7 463.0,148.7 463.5,151.6 464.1,154.6 464.6,157.5 465.2,160.5 465.8,163.4 466.4,166.3 467.0,169.3 467.6,172.2 468.2,175.2 468.9,178.1 469.6,181.0 470.3,183.9 471.0,186.8 471.7,189.8 472.4,192.7 473.2,195.6 473.9,198.5 474.7,201.4 475.5,204.3 476.3,207.2 477.1,210.0 477.9,212.9 478.7,215.8 479.6,218.7 480.5,221.6 481.3,224.4 482.2,227.3 483.1,230.2 484.0,233.0 485.0,235.9 485.9,238.7 486.9,241.6 487.8,244.4 488.8,247.2 489.8,250.1 490.8,252.9 491.8,255.7 492.8,258.6 493.8,261.4 494.8,264.2 495.9,267.0 496.9,269.8 498.0,272.6 499.1,275.4 500.2,278.2 501.3,281.0 502.4,283.8 503.5,286.6 504.6,289.4 505.8,292.1 506.9,294.9 508.0,297.7 509.2,300.4 510.4,303.2 511.6,306.0 512.7,308.7 513.9,311.5 515.1,314.2 516.3,317.0 517.6,319.7 518.8,322.5 520.0,325.2 521.2,327.9 522.5,330.7 523.7,333.4 525.0,336.1 526.3,338.8 527.5,341.5 528.8,344.3 530.1,347.0 531.4,349.7 532.7,352.4 534.0,355.1 535.3,357.8 536.6,360.5 537.9,363.2 539.2,365.9 540.6,368.6 541.9,371.3 543.2,373.9 544.6,376.6 545.9,379.3 547.3,382.0 548.6,384.7 550.0,387.3 551.3,390.0 552.7,392.7 554.1,395.3 555.5,398.0 556.8,400.7 558.2,403.3 559.6,406.0 561.0,408.7 562.4,411.3 563.8,414.0 565.2,416.6 566.6,419.3 568.1,421.9 569.5,424.5 570.9,427.2 572.3,429.8 573.8,432.4 575.2,435.1 576.7,437.7 578.1,440.3 579.6,442.9 581.0,445.6 582.5,448.2 584.0,450.8 585.5,453.4 587.0,456.0 588.5,458.6 590.0,461.2 591.5,463.8 593.0,466.4 594.5,469.0 596.0,471.6 597.5,474.1 599.1,476.7 600.6,479.3 602.2,481.9 603.7,484.4 605.3,487.0 606.8,489.6 608.4,492.1 610.0,494.7 611.6,497.2 613.2,499.8 614.8,502.3 616.4,504.8 618.0,507.4 619.6,509.9 621.2,512.4 622.8,514.9 624.5,517.4 626.1,519.9 627.8,522.4 629.4,524.9 631.1,527.4 632.8,529.9 634.5,532.4 636.2,534.9 637.9,537.4 639.6,539.8 641.3,542.3 643.0,544.8 644.7,547.2 646.4,549.7 648.2,552.1 649.9,554.5 651.7,557.0 653.5,559.4 655.2,561.8 657.0,564.2 658.8,566.6 660.6,569.0 662.4,571.4 664.2,573.8 666.0,576.2 667.9,578.6 669.7,581.0 671.6,583.3 673.4,585.7 675.3,588.0 677.2,590.4 679.0,592.7 680.9,595.0 682.9,597.3 684.8,599.6 686.7,601.9 688.6,604.2 690.6,606.5 692.5,608.8 694.5,611.1 696.5,613.3 698.5,615.6 700.5,617.8 702.5,620.0 704.5,622.2 706.6,624.4 708.6,626.6 710.7,628.8 712.8,631.0 714.8,633.1 716.9,635.3 719.1,637.4 721.2,639.5 723.3,641.6 725.5,643.7 727.6,645.8 729.8,647.8 732.0,649.9 734.2,651.9 736.4,653.9 738.7,655.9 740.9,657.9 743.2,659.9 745.4,661.9 747.7,663.8 750.0,665.7 752.3,667.7 754.6,669.6 757.0,671.4 759.3,673.3 761.7,675.1 764.1,677.0 766.5,678.8 768.9,680.6 771.3,682.3 773.7,684.1 776.2,685.8 778.6,687.5 781.1,689.2 783.6,690.9 786.1,692.6 788.6,694.2 791.1,695.8 793.7,697.4 796.3,697.1" fill="none" stroke="#FF0000" stroke-width="1.6"/><polyline points="235.8,659.9 235.6,657.3 236.4,654.6 237.2,652.0 238.0,649.4 238.8,646.7 239.6,644.1 240.5,641.5 241.3,638.9 242.1,636.2 242.9,633.6 243.8,631.0 244.6,628.4 245.5,625.8 246.3,623.1 247.1,620.5 248.0,617.9 248.9,615.3 249.7,612.7 250.6,610.1 251.5,607.5 252.3,604.9 253.2,602.3 254.1,599.7 255.0,597.1 255.9,594.5 256.8,591.8 257.7,589.2 258.6,586.7 259.5,584.1 260.4,581.5 261.3,578.9 262.2,576.3 263.1,573.7 264.0,571.1 265.0,568.5 265.9,565.9 266.8,563.3 267.8,560.7 268.7,558.2 269.6,555.6 270.6,553.0 271.5,550.4 272.5,547.8 273.4,545.2 274.4,542.7 275.4,540.1 276.3,537.5 277.3,534.9 278.3,532.4 279.2,529.8 280.2,527.2 281.2,524.7 282.2,522.1 283.2,519.5 284.1,516.9 285.1,514.4 286.1,511.8 287.1,509.3 288.1,506.7 289.1,504.1 290.1,501.6 291.1,499.0 292.1,496.4 293.1,493.9 294.1,491.3 295.2,488.8 296.2,486.2 297.2,483.7 298.2,481.1 299.2,478.6 300.3,476.0 301.3,473.5 302.3,470.9 303.4,468.4 304.4,465.8 305.4,463.3 306.5,460.7 307.5,458.2 308.5,455.6 309.6,453.1 310.6,450.5 311.7,448.0 312.7,445.5 313.8,442.9 314.8,440.4 315.9,437.8 317.0,435.3 318.0,432.8 319.1,430.2 320.1,427.7 321.2,425.1 322.3,422.6 323.3,420.1 324.4,417.5 325.5,415.0 326.5,412.5 327.6,409.9 328.7,407.4 329.8,404.9 330.8,402.4 331.9,399.8 333.0,397.3 334.1,394.8 335.2,392.2 336.2,389.7 337.3,387.2 338.4,384.7 339.5,382.1 340.6,379.6 341.7,377.1 342.8,374.6 343.9,372.0 344.9,369.5 346.0,367.0 347.1,364.5 348.2,361.9 349.3,359.4 350.4,356.9 351.5,354.4 352.6,351.8 353.7,349.3 354.8,346.8 355.9,344.3 357.0,341.8 358.1,339.2 359.2,336.7 360.3,334.2 361.4,331.7 362.5,329.2 363.6,326.6 364.7,324.1 365.8,321.6 366.9,319.1 368.0,316.6 369.1,314.0 370.2,311.5 371.3,309.0 372.4,306.5 373.5,304.0 374.7,301.5 375.8,298.9 376.9,296.4 378.0,293.9 379.1,291.4 380.2,288.9 381.3,286.3 382.4,283.8 383.5,281.3 384.6,278.8 385.7,276.3 386.8,273.8 387.9,271.2 389.0,268.7 390.1,266.2 391.2,263.7 392.3,261.2 393.4,258.6 394.5,256.1 395.6,253.6 396.7,251.1 397.8,248.6 398.9,246.0 400.0,243.5 401.1,241.0 402.2,238.5 403.3,236.0 404.4,233.4 405.5,230.9 406.6,228.4 407.7,225.9 408.8,223.3 409.9,220.8 411.0,218.3 412.1,215.8 413.2,213.3 414.3,210.7 415.4,208.2 416.4,205.7 417.5,203.2 418.6,200.6 419.7,198.1 420.8,195.6 421.9,193.0 422.9,190.5 424.0,188.0 425.1,185.5 426.2,182.9 427.3,180.4 428.3,177.9 429.4,175.3 430.5,172.8 431.5,170.3 432.6,167.7 433.7,165.2 434.7,162.7 435.8,160.1 436.9,157.6 437.9,155.0 439.0,152.5 440.1,150.0 441.1,147.4 442.2,144.9 443.2,142.4 444.3,139.8 445.3,137.3 446.4,134.7 447.4,132.2 448.4,129.6 449.5,127.1 450.5,124.5 451.6,122.0 452.6,119.5 453.6,116.9 454.7,114.4 455.7,111.8 456.7,109.3 457.7,106.7 459.1,104.8 460.3,104.3 463.0,146.3 463.1,149.0 463.6,151.7 464.0,154.4 464.6,157.2 465.1,159.9 465.6,162.6 466.1,165.2 466.7,167.9 467.3,170.6 467.8,173.3 468.4,176.0 469.0,178.7 469.7,181.4 470.3,184.0 470.9,186.7 471.6,189.4 472.3,192.1 472.9,194.7 473.6,197.4 474.3,200.0 475.0,202.7 475.8,205.4 476.5,208.0 477.3,210.6 478.0,213.3 478.8,215.9 479.6,218.6 480.4,221.2 481.2,223.8 482.0,226.5 482.8,229.1 483.6,231.7 484.5,234.3 485.3,236.9 486.2,239.5 487.1,242.2 487.9,244.8 488.8,247.4 489.7,250.0 490.6,252.6 491.6,255.1 492.5,257.7 493.4,260.3 494.4,262.9 495.3,265.5 496.3,268.1 497.3,270.6 498.2,273.2 499.2,275.8 500.2,278.3 501.2,280.9 502.2,283.4 503.3,286.0 504.3,288.5 505.3,291.1 506.4,293.6 507.4,296.2 508.5,298.7 509.5,301.3 510.6,303.8 511.7,306.3 512.8,308.8 513.9,311.4 515.0,313.9 516.1,316.4 517.2,318.9 518.3,321.4 519.4,323.9 520.6,326.4 521.7,329.0 522.8,331.5 524.0,334.0 525.1,336.4 526.3,338.9 527.5,341.4 528.6,343.9 529.8,346.4 531.0,348.9 532.2,351.4 533.4,353.9 534.6,356.3 535.8,358.8 537.0,361.3 538.2,363.7 539.4,366.2 540.6,368.7 541.8,371.1 543.1,373.6 544.3,376.1 545.5,378.5 546.8,381.0 548.0,383.4 549.2,385.9 550.5,388.3 551.7,390.8 553.0,393.2 554.3,395.7 555.5,398.1 556.8,400.6 558.0,403.0 559.3,405.4 560.6,407.9 561.9,410.3 563.2,412.7 564.5,415.2 565.7,417.6 567.0,420.0 568.3,422.4 569.7,424.9 571.0,427.3 572.3,429.7 573.6,432.1 574.8,434.3 576.0,436.5 577.2,438.7 578.4,440.9 579.6,443.1 580.9,445.2 582.1,447.4 583.3,449.6 584.5,451.8 585.8,453.9 587.0,456.1 588.3,458.3 589.5,460.4 590.8,462.6 592.0,464.8 593.3,466.9 594.5,469.1 595.8,471.2 597.1,473.4 598.4,475.5 599.6,477.7 600.9,479.8 602.2,482.0 603.5,484.1 604.8,486.3 606.1,488.4 607.4,490.5 608.7,492.6 610.0,494.8 611.4,496.9 612.7,499.0 614.0,501.1 615.2,503.0 616.4,504.9 617.6,506.8 618.8,508.7 620.1,510.6 621.3,512.5 622.5,514.4 623.7,516.3 625.0,518.2 626.2,520.1 627.4,521.9 628.7,523.8 629.9,525.7 631.2,527.5 632.4,529.4 633.7,531.3 635.0,533.1 636.2,535.0 637.5,536.9 638.8,538.7 640.1,540.6 641.3,542.4 642.6,544.2 643.9,546.1 645.2,547.9 646.5,549.8 647.8,551.6 649.1,553.4 650.5,555.3 651.8,557.1 653.1,558.9 654.4,560.7 655.8,562.5 657.1,564.3 658.4,566.1 659.8,567.9 661.0,569.5 662.2,571.1 663.4,572.7 664.6,574.3 665.8,575.9 667.0,577.5 668.3,579.1 669.5,580.7 670.7,582.2 672.0,583.8 673.2,585.4 674.4,587.0 675.7,588.5 676.9,590.1 678.2,591.6 679.4,593.2 680.7,594.7 682.0,596.3 683.2,597.8 684.5,599.4 685.8,600.9 687.1,602.4 688.4,604.0 689.7,605.5 691.0,607.0 692.3,608.5 693.6,610.0 694.9,611.5 696.2,613.0 697.6,614.5 698.9,616.0 700.2,617.5 701.6,619.0 702.9,620.5 704.3,621.9 705.6,623.4 707.0,624.9 708.4,626.3 709.6,627.6 710.8,628.9 712.0,630.1 713.2,631.4 714.4,632.7 715.6,633.9 716.9,635.2 718.1,636.4 719.3,637.6 720.6,638.9 721.8,640.1 723.0,641.3 724.3,642.6 725.6,643.8 726.8,645.0 728.1,646.2 729.4,647.4 730.6,648.6 731.9,649.8 733.2,651.0 734.5,652.2 735.8,653.4 737.1,654.5 738.4,655.7 739.7,656.9 741.0,658.0 742.3,659.2 743.6,660.3 745.0,661.5 746.3,662.6 747.6,663.7 749.0,664.9 750.3,666.0 751.6,667.1 753.0,668.2 754.4,669.3 755.7,670.4 757.1,671.5 758.5,672.6 759.8,673.7 761.2,674.8 762.6,675.8 764.0,676.9 765.4,677.9 766.8,679.0 768.0,679.9 769.2,680.8 770.4,681.7 771.6,682.6 772.8,683.4 774.0,684.3 775.3,685.2 776.5,686.0 777.7,686.9 779.0,687.8 780.2,688.6 781.4,689.5 782.7,690.3 783.9,691.1 785.2,692.0 786.4,692.8 787.7,693.6 788.9,694.4 790.2,695.2 791.5,696.0 792.7,696.8 794.0,697.6 795.3,697.6 796.7,696.9 796.7,696.9" fill="none" stroke="none" marker-start="url(#mCiR)" marker-mid="url(#mCiR)" marker-end="url(#mCiR)"/>
</g><g clip-path="url(#clipB)">
<polyline points="237.7,1530.6 236.5,1527.9 237.0,1525.1 238.2,1522.4 239.4,1519.6 240.6,1516.9 241.8,1514.2 243.1,1511.4 244.4,1508.7 245.6,1506.0 246.9,1503.3 248.2,1500.6 249.6,1497.9 250.9,1495.2 252.2,1492.5 253.6,1489.9 255.0,1487.2 256.3,1484.5 257.7,1481.9 259.1,1479.2 260.6,1476.6 262.0,1473.9 263.4,1471.3 264.9,1468.7 266.3,1466.1 267.8,1463.4 269.3,1460.8 270.8,1458.2 272.3,1455.6 273.8,1453.0 275.3,1450.5 276.8,1447.9 278.4,1445.3 279.9,1442.7 281.5,1440.2 283.0,1437.6 284.6,1435.1 286.2,1432.5 287.8,1430.0 289.4,1427.4 291.0,1424.9 292.6,1422.4 294.2,1419.8 295.8,1417.3 297.5,1414.8 299.1,1412.3 300.8,1409.8 302.4,1407.3 304.1,1404.8 305.7,1402.3 307.4,1399.8 309.1,1397.3 310.8,1394.8 312.5,1392.3 314.2,1389.9 315.9,1387.4 317.6,1384.9 319.3,1382.4 321.0,1380.0 322.7,1377.5 324.4,1375.1 326.2,1372.6 327.9,1370.2 329.6,1367.7 331.4,1365.3 333.1,1362.8 334.8,1360.4 336.6,1358.0 338.4,1355.5 340.1,1353.1 341.9,1350.7 343.6,1348.2 345.4,1345.8 347.2,1343.4 348.9,1341.0 350.7,1338.6 352.5,1336.1 354.3,1333.7 356.1,1331.3 357.8,1328.9 359.6,1326.5 361.4,1324.1 363.2,1321.7 365.0,1319.3 366.8,1316.9 368.6,1314.4 370.4,1312.0 372.2,1309.6 374.0,1307.2 375.8,1304.8 377.6,1302.4 379.4,1300.0 381.2,1297.6 383.0,1295.2 384.8,1292.8 386.6,1290.5 388.4,1288.1 390.2,1285.7 392.0,1283.3 393.8,1280.9 395.6,1278.5 397.5,1276.1 399.3,1273.7 401.1,1271.3 402.9,1269.0 404.7,1266.6 406.6,1264.2 408.4,1261.8 410.2,1259.4 412.0,1257.1 413.9,1254.7 415.7,1252.3 417.6,1249.9 419.4,1247.6 421.2,1245.2 423.1,1242.8 424.9,1240.5 426.8,1238.1 428.6,1235.7 430.5,1233.4 432.3,1231.0 434.2,1228.7 436.0,1226.3 437.9,1223.9 439.7,1221.6 441.6,1219.2 443.5,1216.9 445.3,1214.5 447.2,1212.2 449.1,1209.8 451.0,1207.5 452.8,1205.2 454.7,1202.8 456.6,1200.5 458.5,1198.1 460.4,1195.8 462.2,1193.5 464.1,1191.2 466.0,1188.8 467.9,1186.5 469.8,1184.2 471.7,1181.9 473.6,1179.5 475.5,1177.2 477.4,1174.9 479.3,1172.6 481.3,1170.3 483.2,1168.0 485.1,1165.7 487.0,1163.4 488.9,1161.1 490.9,1158.8 492.8,1156.5 494.7,1154.2 496.7,1151.9 498.6,1149.6 500.5,1147.3 502.5,1145.0 504.4,1142.7 506.4,1140.4 508.3,1138.2 510.3,1135.9 512.2,1133.6 514.2,1131.3 516.1,1129.1 518.1,1126.8 520.1,1124.5 522.0,1122.3 524.0,1120.0 526.0,1117.7 528.0,1115.5 530.0,1113.2 531.9,1111.0 533.9,1108.7 535.9,1106.5 537.9,1104.3 539.9,1102.0 541.9,1099.8 543.9,1097.6 545.9,1095.3 547.9,1093.1 549.9,1090.9 552.0,1088.6 554.0,1086.4 556.0,1084.2 558.0,1082.0 560.0,1079.8 562.1,1077.6 564.1,1075.4 566.2,1073.2 568.2,1071.0 570.2,1068.8 572.3,1066.6 574.3,1064.4 576.4,1062.2 578.4,1060.0 580.5,1057.8 582.6,1055.7 584.6,1053.5 586.7,1051.3 588.8,1049.2 590.9,1047.0 592.9,1044.8 595.0,1042.7 597.1,1040.5 599.2,1038.4 601.3,1036.2 603.4,1034.1 605.5,1031.9 607.6,1029.8 609.7,1027.7 611.8,1025.5 613.9,1023.4 616.1,1021.3 618.2,1019.2 620.3,1017.0 622.4,1014.9 624.6,1012.8 626.7,1010.7 628.8,1008.6 631.0,1006.5 633.1,1004.4 635.3,1002.3 637.4,1000.2 639.6,998.1 641.7,996.1 643.9,994.0 646.1,991.9 648.2,989.8 650.4,987.8 652.6,985.7 654.8,983.6 657.0,981.6 659.2,979.5 661.3,977.5 663.5,975.4 665.7,973.4 667.1,973.9 667.2,976.9 667.4,979.9 667.6,982.9 667.7,985.9 667.9,988.9 668.1,991.9 668.3,994.9 668.4,997.9 668.6,1000.9 668.8,1003.9 669.0,1006.9 668.8,1009.8 667.7,1012.6 668.7,1015.4 669.7,1018.2 670.8,1021.0 671.9,1023.8 673.1,1026.6 674.2,1029.4 675.4,1032.1 676.6,1034.9 677.8,1037.6 679.1,1040.3 680.3,1043.0 681.6,1045.8 682.9,1048.5 684.3,1051.2 685.6,1053.8 687.0,1056.5 688.3,1059.2 689.7,1061.8 691.1,1064.5 692.6,1067.1 694.0,1069.7 695.5,1072.4 696.9,1075.0 698.4,1077.6 699.9,1080.2 701.4,1082.8 703.0,1085.4 704.5,1087.9 706.0,1090.5 707.6,1093.1 709.2,1095.6 710.8,1098.2 712.4,1100.7 714.0,1103.3 715.6,1105.8 717.2,1108.3 718.8,1110.8 720.5,1113.3 722.1,1115.8 723.8,1118.3 725.4,1120.8 727.1,1123.3 728.8,1125.8 730.5,1128.3 732.2,1130.8 733.9,1133.2 735.6,1135.7 737.3,1138.2 739.0,1140.6 740.7,1143.1 742.5,1145.5 744.2,1148.0 745.9,1150.4 747.7,1152.9 749.4,1155.3 751.2,1157.8 752.9,1160.2 754.7,1162.6 756.4,1165.1 758.2,1167.5 760.0,1169.9 761.7,1172.3 763.5,1174.8 765.3,1177.2 767.0,1179.6 768.8,1182.0 770.6,1184.4 772.4,1186.8 774.2,1189.2 776.0,1191.6 777.8,1194.0 779.6,1196.4 781.4,1198.8 783.2,1201.2 785.0,1203.6 786.8,1206.0 788.6,1208.4 790.4,1210.8 792.2,1213.2 794.1,1215.6 795.9,1218.0 797.7,1220.3 799.5,1222.7 801.4,1225.1 803.2,1227.5 805.0,1229.8 806.9,1232.2 808.7,1234.6 810.6,1237.0 812.4,1239.3 814.2,1241.7 816.1,1244.0 817.9,1246.4 819.8,1248.8 821.7,1251.1 823.5,1253.5 825.4,1255.8 827.2,1258.2 829.1,1260.5 831.0,1262.9 832.8,1265.2 834.7,1267.6 836.6,1269.9 838.4,1272.3 840.3,1274.6 842.2,1277.0 844.1,1279.3 845.9,1281.6 847.8,1284.0 849.7,1286.3 851.6,1288.6 853.5,1291.0 855.4,1293.3 857.3,1295.6 859.2,1298.0 861.0,1300.3 862.9,1302.6 864.8,1304.9 866.7,1307.3 868.6,1309.6 870.5,1311.9 872.4,1314.2 874.3,1316.6 876.2,1318.9 878.1,1321.2 880.0,1323.5 882.0,1325.8 883.9,1328.1 885.8,1330.4 887.7,1332.8 889.6,1335.1 891.5,1337.4 893.5,1339.7 895.4,1342.0 897.3,1344.3 899.2,1346.6 901.2,1348.9 903.1,1351.2 905.0,1353.5 907.0,1355.7 908.9,1358.0 910.8,1360.3 912.8,1362.6 914.7,1364.9 916.7,1367.2 918.6,1369.4 920.6,1371.7 922.6,1374.0 924.5,1376.3 926.5,1378.5 928.5,1380.8 930.4,1383.0 932.4,1385.3 934.4,1387.6 936.4,1389.8 938.3,1392.1 940.3,1394.3 942.3,1396.6 944.3,1398.8 946.3,1401.0 948.3,1403.3 950.3,1405.5 952.3,1407.7 954.3,1410.0 956.3,1412.2 958.4,1414.4 960.4,1416.6 962.4,1418.8 964.4,1421.0 966.5,1423.3 968.5,1425.5 970.6,1427.7 972.6,1429.9 974.6,1432.0 976.7,1434.2 978.8,1436.4 980.8,1438.6 982.9,1440.8 985.0,1442.9 987.0,1445.1 989.1,1447.3 991.2,1449.4 993.3,1451.6 995.4,1453.7 997.5,1455.9 999.6,1458.0 1001.7,1460.2 1003.8,1462.3 1005.9,1464.4 1008.0,1466.6 1010.1,1468.7 1012.3,1470.8 1014.4,1472.9 1016.5,1475.0 1018.7,1477.1 1020.8,1479.2 1023.0,1481.3 1025.1,1483.4 1027.3,1485.5 1029.4,1487.5 1031.6,1489.6 1033.8,1491.7 1036.0,1493.7 1038.2,1495.8 1040.3,1497.8 1042.5,1499.9 1044.7,1501.9 1046.9,1504.0 1049.2,1506.0 1051.4,1508.0 1053.6,1510.0 1055.8,1512.0 1058.0,1514.0 1060.3,1516.0 1062.5,1518.0 1064.8,1520.0 1067.0,1522.0 1069.3,1524.0 1071.5,1526.0 1073.8,1527.9 1076.1,1529.9 1078.4,1531.8 1080.7,1533.8 1082.9,1535.7 1085.2,1537.6 1087.5,1539.6 1089.8,1541.5 1092.2,1543.4 1094.5,1545.3 1096.8,1547.2 1099.1,1549.1 1101.5,1551.0 1103.8,1552.9 1106.1,1554.7 1108.5,1556.6 1110.8,1558.4 1113.2,1560.3 1115.2,1562.3" fill="none" stroke="#008000" stroke-width="1.6"/><polyline points="237.7,1530.6 236.5,1527.9 237.1,1524.9 238.4,1521.9 239.6,1519.2 240.8,1516.4 242.1,1513.7 243.3,1511.0 244.6,1508.3 245.9,1505.6 247.1,1502.9 248.5,1500.2 249.7,1497.7 250.9,1495.2 252.1,1492.8 253.4,1490.3 254.6,1487.9 255.9,1485.4 257.1,1483.0 258.4,1480.5 259.7,1478.1 261.0,1475.7 262.3,1473.3 263.5,1471.1 264.7,1468.9 266.0,1466.7 267.2,1464.5 268.4,1462.4 269.7,1460.2 270.9,1458.0 272.1,1455.9 273.4,1453.7 274.7,1451.5 275.9,1449.4 277.2,1447.2 278.5,1445.1 279.8,1442.9 281.1,1440.8 282.4,1438.7 283.7,1436.5 285.0,1434.4 286.3,1432.3 287.7,1430.2 289.0,1428.1 290.2,1426.1 291.4,1424.2 292.6,1422.4 293.8,1420.5 295.0,1418.6 296.2,1416.7 297.5,1414.8 298.7,1412.9 299.9,1411.0 301.2,1409.1 302.4,1407.3 303.7,1405.4 304.9,1403.5 306.2,1401.6 307.4,1399.8 308.7,1397.9 309.9,1396.1 311.2,1394.2 312.5,1392.3 313.7,1390.5 315.0,1388.6 316.3,1386.8 317.6,1384.9 318.8,1383.1 320.1,1381.2 321.4,1379.4 322.7,1377.5 324.0,1375.7 325.3,1373.8 326.6,1372.0 327.9,1370.2 329.2,1368.3 330.5,1366.5 331.8,1364.7 333.1,1362.8 334.4,1361.0 335.7,1359.2 337.0,1357.4 338.4,1355.5 339.7,1353.7 341.0,1351.9 342.3,1350.1 343.6,1348.2 345.0,1346.4 346.3,1344.6 347.6,1342.8 348.9,1341.0 350.3,1339.2 351.6,1337.3 352.9,1335.5 354.3,1333.7 355.6,1331.9 356.9,1330.1 358.3,1328.3 359.6,1326.5 361.0,1324.7 362.3,1322.9 363.6,1321.1 365.0,1319.3 366.3,1317.5 367.7,1315.7 369.0,1313.8 370.4,1312.0 371.7,1310.2 373.1,1308.4 374.4,1306.6 375.8,1304.8 377.1,1303.0 378.3,1301.4 379.5,1299.8 380.7,1298.2 381.9,1296.6 383.1,1295.0 384.3,1293.4 385.5,1291.8 386.7,1290.3 387.9,1288.7 389.1,1287.1 390.3,1285.5 391.6,1283.9 392.8,1282.3 394.0,1280.7 395.2,1279.1 396.4,1277.5 397.6,1275.9 398.8,1274.3 400.0,1272.7 401.2,1271.1 402.5,1269.5 403.7,1268.0 404.9,1266.4 406.1,1264.8 407.3,1263.2 408.5,1261.6 409.8,1260.0 411.0,1258.4 412.2,1256.9 413.4,1255.3 414.6,1253.7 415.9,1252.1 417.1,1250.5 418.3,1248.9 419.5,1247.4 420.8,1245.8 422.0,1244.2 423.2,1242.6 424.5,1241.1 425.7,1239.5 426.9,1237.9 428.1,1236.3 429.4,1234.7 430.6,1233.2 431.9,1231.6 433.1,1230.0 434.3,1228.5 435.6,1226.9 436.8,1225.3 438.0,1223.7 439.3,1222.2 440.5,1220.6 441.8,1219.0 443.0,1217.5 444.2,1215.9 445.5,1214.3 446.7,1212.8 448.0,1211.2 449.2,1209.6 450.5,1208.1 451.7,1206.5 453.0,1205.0 454.2,1203.4 455.5,1201.8 456.7,1200.3 458.0,1198.7 459.3,1197.2 460.5,1195.6 461.8,1194.1 463.0,1192.5 464.3,1191.0 465.6,1189.4 466.8,1187.9 468.1,1186.3 469.3,1184.8 470.6,1183.2 471.9,1181.7 473.1,1180.1 474.4,1178.6 475.7,1177.0 477.0,1175.5 478.2,1173.9 479.5,1172.4 480.8,1170.9 482.1,1169.3 483.3,1167.8 484.6,1166.2 485.9,1164.7 487.2,1163.2 488.5,1161.6 489.7,1160.1 491.0,1158.6 492.3,1157.0 493.6,1155.5 494.9,1154.0 496.2,1152.4 497.5,1150.9 498.7,1149.4 500.0,1147.9 501.3,1146.3 502.6,1144.8 503.9,1143.3 505.2,1141.8 506.5,1140.2 507.8,1138.7 509.1,1137.2 510.4,1135.7 511.7,1134.2 513.0,1132.7 514.3,1131.1 515.6,1129.6 517.0,1128.1 518.3,1126.6 519.6,1125.1 520.9,1123.6 522.2,1122.1 523.5,1120.6 524.8,1119.1 526.2,1117.6 527.5,1116.1 528.8,1114.6 530.1,1113.1 531.4,1111.6 532.8,1110.1 534.1,1108.6 535.4,1107.1 536.7,1105.6 538.1,1104.1 539.4,1102.6 540.7,1101.1 542.1,1099.6 543.4,1098.1 544.7,1096.6 546.1,1095.1 547.4,1093.6 548.8,1092.2 550.1,1090.7 551.4,1089.2 552.8,1087.7 554.1,1086.2 555.5,1084.8 556.8,1083.3 558.2,1081.8 559.5,1080.3 560.9,1078.9 562.2,1077.4 563.6,1075.9 565.0,1074.5 566.3,1073.0 567.7,1071.5 569.0,1070.1 570.4,1068.6 571.8,1067.1 573.1,1065.7 574.5,1064.2 575.9,1062.8 577.2,1061.3 578.4,1060.0 579.7,1058.8 580.9,1057.5 582.1,1056.2 583.3,1054.9 584.5,1053.7 585.7,1052.4 586.9,1051.1 588.1,1049.9 589.3,1048.6 590.5,1047.4 591.7,1046.1 592.9,1044.8 594.2,1043.6 595.4,1042.3 596.6,1041.1 597.8,1039.8 599.0,1038.5 600.3,1037.3 601.5,1036.0 602.7,1034.8 603.9,1033.5 605.1,1032.3 606.4,1031.0 607.6,1029.8 608.8,1028.6 610.1,1027.3 611.3,1026.1 612.5,1024.8 613.8,1023.6 615.0,1022.3 616.2,1021.1 617.5,1019.9 618.7,1018.6 619.9,1017.4 621.2,1016.2 622.4,1014.9 623.7,1013.7 624.9,1012.5 626.2,1011.2 627.4,1010.0 628.7,1008.8 629.9,1007.6 631.2,1006.3 632.4,1005.1 633.7,1003.9 634.9,1002.7 636.2,1001.4 637.4,1000.2 638.7,999.0 639.9,997.8 641.2,996.6 642.5,995.4 643.7,994.2 645.0,992.9 646.3,991.7 647.5,990.5 648.8,989.3 650.1,988.1 651.3,986.9 652.6,985.7 653.9,984.5 655.1,983.3 656.4,982.1 657.7,980.9 659.0,979.7 660.3,978.5 661.5,977.3 662.8,976.1 664.1,974.9 665.4,973.7 666.7,972.7 667.0,972.5 669.1,1009.1 668.0,1011.9 668.5,1014.9 669.6,1017.9 670.8,1021.0 672.0,1024.0 673.2,1027.0 674.5,1030.0 675.8,1033.0 677.0,1035.7 678.2,1038.5 679.5,1041.2 680.7,1043.9 682.0,1046.6 683.2,1049.1 684.5,1051.5 685.7,1054.0 686.9,1056.5 688.2,1058.9 689.5,1061.3 690.8,1063.8 692.1,1066.2 693.4,1068.6 694.6,1070.8 695.8,1073.0 697.0,1075.1 698.3,1077.3 699.5,1079.5 700.8,1081.7 702.0,1083.8 703.3,1086.0 704.6,1088.1 705.9,1090.2 707.2,1092.4 708.5,1094.5 709.8,1096.6 711.1,1098.8 712.5,1100.9 713.7,1102.8 714.9,1104.7 716.1,1106.6 717.3,1108.5 718.5,1110.4 719.7,1112.2 721.0,1114.1 722.2,1116.0 723.5,1117.9 724.7,1119.8 726.0,1121.6 727.2,1123.5 728.5,1125.4 729.7,1127.2 731.0,1129.1 732.3,1130.9 733.5,1132.8 734.8,1134.6 736.1,1136.5 737.4,1138.3 738.7,1140.2 740.0,1142.0 741.3,1143.9 742.6,1145.7 743.9,1147.5 745.2,1149.4 746.5,1151.2 747.8,1153.0 749.1,1154.9 750.4,1156.7 751.7,1158.5 753.0,1160.3 754.3,1162.2 755.7,1164.0 757.0,1165.8 758.3,1167.6 759.6,1169.5 760.9,1171.3 762.3,1173.1 763.6,1174.9 764.9,1176.7 766.3,1178.5 767.6,1180.3 768.9,1182.2 770.3,1184.0 771.6,1185.8 773.0,1187.6 774.3,1189.4 775.6,1191.2 777.0,1193.0 778.3,1194.8 779.7,1196.6 780.9,1198.2 782.1,1199.8 783.3,1201.4 784.5,1203.0 785.7,1204.6 786.9,1206.2 788.1,1207.8 789.3,1209.4 790.5,1211.0 791.8,1212.5 793.0,1214.1 794.2,1215.7 795.4,1217.3 796.6,1218.9 797.8,1220.5 799.0,1222.1 800.3,1223.7 801.5,1225.2 802.7,1226.8 803.9,1228.4 805.2,1230.0 806.4,1231.6 807.6,1233.2 808.8,1234.7 810.1,1236.3 811.3,1237.9 812.5,1239.5 813.7,1241.0 815.0,1242.6 816.2,1244.2 817.4,1245.8 818.7,1247.3 819.9,1248.9 821.2,1250.5 822.4,1252.1 823.6,1253.6 824.9,1255.2 826.1,1256.8 827.3,1258.3 828.6,1259.9 829.8,1261.5 831.1,1263.0 832.3,1264.6 833.6,1266.2 834.8,1267.7 836.1,1269.3 837.3,1270.9 838.6,1272.4 839.8,1274.0 841.1,1275.5 842.3,1277.1 843.6,1278.7 844.8,1280.2 846.1,1281.8 847.3,1283.3 848.6,1284.9 849.8,1286.5 851.1,1288.0 852.3,1289.6 853.6,1291.1 854.9,1292.7 856.1,1294.2 857.4,1295.8 858.6,1297.3 859.9,1298.9 861.2,1300.4 862.4,1302.0 863.7,1303.5 864.9,1305.1 866.2,1306.6 867.5,1308.2 868.7,1309.7 870.0,1311.3 871.3,1312.8 872.5,1314.4 873.8,1315.9 875.1,1317.5 876.4,1319.0 877.6,1320.6 878.9,1322.1 880.2,1323.7 881.4,1325.2 882.7,1326.7 884.0,1328.3 885.3,1329.8 886.5,1331.4 887.8,1332.9 889.1,1334.4 890.4,1336.0 891.7,1337.5 892.9,1339.0 894.2,1340.6 895.5,1342.1 896.8,1343.7 898.1,1345.2 899.4,1346.7 900.6,1348.2 901.9,1349.8 903.2,1351.3 904.5,1352.8 905.8,1354.4 907.1,1355.9 908.4,1357.4 909.7,1358.9 911.0,1360.5 912.3,1362.0 913.6,1363.5 914.9,1365.0 916.2,1366.5 917.5,1368.1 918.8,1369.6 920.1,1371.1 921.4,1372.6 922.7,1374.1 924.0,1375.6 925.3,1377.2 926.6,1378.7 927.9,1380.2 929.2,1381.7 930.6,1383.2 931.9,1384.7 933.2,1386.2 934.5,1387.7 935.8,1389.2 937.1,1390.7 938.5,1392.2 939.8,1393.7 941.1,1395.2 942.4,1396.7 943.8,1398.2 945.1,1399.7 946.4,1401.2 947.8,1402.7 949.1,1404.2 950.4,1405.7 951.8,1407.1 953.1,1408.6 954.5,1410.1 955.8,1411.6 957.1,1413.1 958.5,1414.5 959.8,1416.0 961.2,1417.5 962.5,1419.0 963.9,1420.5 965.2,1421.9 966.6,1423.4 968.0,1424.9 969.3,1426.3 970.7,1427.8 972.0,1429.3 973.4,1430.7 974.8,1432.2 976.1,1433.6 977.5,1435.1 978.7,1436.4 979.9,1437.6 981.1,1438.9 982.3,1440.2 983.5,1441.4 984.7,1442.7 985.9,1444.0 987.2,1445.2 988.4,1446.5 989.6,1447.8 990.8,1449.0 992.0,1450.3 993.2,1451.5 994.4,1452.8 995.7,1454.1 996.9,1455.3 998.1,1456.6 999.3,1457.8 1000.6,1459.1 1001.8,1460.3 1003.0,1461.5 1004.3,1462.8 1005.5,1464.0 1006.7,1465.3 1008.0,1466.5 1009.2,1467.7 1010.4,1469.0 1011.7,1470.2 1012.9,1471.5 1014.2,1472.7 1015.4,1473.9 1016.7,1475.1 1017.9,1476.4 1019.2,1477.6 1020.4,1478.8 1021.7,1480.0 1022.9,1481.3 1024.2,1482.5 1025.4,1483.7 1026.7,1484.9 1028.0,1486.1 1029.2,1487.3 1030.5,1488.5 1031.7,1489.7 1033.0,1490.9 1034.3,1492.2 1035.6,1493.4 1036.8,1494.6 1038.1,1495.8 1039.4,1496.9 1040.7,1498.1 1041.9,1499.3 1043.2,1500.5 1044.5,1501.7 1045.8,1502.9 1047.1,1504.1 1048.4,1505.3 1049.7,1506.5 1051.0,1507.6 1052.2,1508.8 1053.5,1510.0 1054.8,1511.2 1056.1,1512.3 1057.4,1513.5 1058.7,1514.7 1060.1,1515.8 1061.4,1517.0 1062.7,1518.2 1064.0,1519.3 1065.3,1520.5 1066.6,1521.6 1067.9,1522.8 1069.2,1523.9 1070.6,1525.1 1071.9,1526.2 1073.2,1527.4 1074.5,1528.5 1075.9,1529.7 1077.2,1530.8 1078.5,1531.9 1079.8,1533.1 1081.2,1534.2 1082.5,1535.3 1083.8,1536.5 1085.2,1537.6 1086.5,1538.7 1087.9,1539.8 1089.2,1541.0 1090.6,1542.1 1091.9,1543.2 1093.3,1544.3 1094.6,1545.4 1096.0,1546.5 1097.3,1547.6 1098.7,1548.7 1100.0,1549.8 1101.4,1550.9 1102.8,1552.0 1104.1,1553.1 1105.5,1554.2 1106.9,1555.3 1108.2,1556.4 1109.6,1557.5 1111.0,1558.6 1112.4,1559.6 1113.8,1560.7 1115.1,1561.8 1115.3,1563.7" fill="none" stroke="none" marker-start="url(#mSqGb)" marker-mid="url(#mSqGb)" marker-end="url(#mSqGb)"/>
<polyline points="238.0,1500.0 240.1,1498.3 240.7,1495.3 241.3,1492.4 241.9,1489.5 242.5,1486.5 243.2,1483.6 243.8,1480.7 244.4,1477.7 245.0,1474.8 245.7,1471.9 246.3,1468.9 247.0,1466.0 247.6,1463.1 248.3,1460.2 249.0,1457.2 249.6,1454.3 250.3,1451.4 251.0,1448.5 251.7,1445.5 252.4,1442.6 253.1,1439.7 253.8,1436.8 254.5,1433.9 255.2,1431.0 255.9,1428.0 256.6,1425.1 257.4,1422.2 258.1,1419.3 258.9,1416.4 259.6,1413.5 260.3,1410.6 261.1,1407.7 261.9,1404.8 262.6,1401.9 263.4,1399.0 264.2,1396.1 265.0,1393.2 265.7,1390.3 266.5,1387.4 267.3,1384.5 268.1,1381.6 268.9,1378.7 269.7,1375.8 270.6,1373.0 271.4,1370.1 272.2,1367.2 273.0,1364.3 273.9,1361.4 274.7,1358.5 275.5,1355.7 276.4,1352.8 277.2,1349.9 278.1,1347.0 279.0,1344.2 279.8,1341.3 280.7,1338.4 281.6,1335.5 282.4,1332.7 283.3,1329.8 284.2,1326.9 285.1,1324.1 286.0,1321.2 286.9,1318.4 287.8,1315.5 288.7,1312.6 289.6,1309.8 290.5,1306.9 291.4,1304.1 292.4,1301.2 293.3,1298.4 294.2,1295.5 295.1,1292.6 296.1,1289.8 297.0,1287.0 298.0,1284.1 298.9,1281.3 299.9,1278.4 300.8,1275.6 301.8,1272.7 302.8,1269.9 303.7,1267.0 304.7,1264.2 305.7,1261.4 306.7,1258.5 307.6,1255.7 308.6,1252.9 309.6,1250.0 310.6,1247.2 311.6,1244.4 312.6,1241.6 313.6,1238.7 314.6,1235.9 315.6,1233.1 316.7,1230.3 317.7,1227.4 318.7,1224.6 319.7,1221.8 320.7,1219.0 321.8,1216.2 322.8,1213.3 323.8,1210.5 324.9,1207.7 325.9,1204.9 327.0,1202.1 328.0,1199.3 329.1,1196.5 330.1,1193.7 331.2,1190.8 332.2,1188.0 333.3,1185.2 334.4,1182.4 335.5,1179.6 336.5,1176.8 337.6,1174.0 338.7,1171.2 339.8,1168.4 340.8,1165.6 341.9,1162.8 343.0,1160.0 344.1,1157.2 345.2,1154.5 346.3,1151.7 347.4,1148.9 348.5,1146.1 349.6,1143.3 350.7,1140.5 351.8,1137.7 352.9,1134.9 354.1,1132.1 355.2,1129.4 356.3,1126.6 357.4,1123.8 358.5,1121.0 359.7,1118.2 360.8,1115.5 361.9,1112.7 363.1,1109.9 364.2,1107.1 365.3,1104.3 366.5,1101.6 367.6,1098.8 368.8,1096.0 369.9,1093.3 371.1,1090.5 372.2,1087.7 373.4,1084.9 374.5,1082.2 375.7,1079.4 376.8,1076.6 378.0,1073.9 379.2,1071.1 380.3,1068.3 381.5,1065.6 382.7,1062.8 383.8,1060.0 385.0,1057.3 386.2,1054.5 387.3,1051.8 388.5,1049.0 389.7,1046.2 390.9,1043.5 392.1,1040.7 393.2,1038.0 394.4,1035.2 395.6,1032.5 396.8,1029.7 398.0,1027.0 399.2,1024.2 400.4,1021.4 401.6,1018.7 402.8,1015.9 404.0,1013.2 405.2,1010.4 406.4,1007.7 407.6,1004.9 408.8,1002.2 410.0,999.4 411.2,996.7 412.4,994.0 413.6,991.2 414.8,988.5 416.0,985.7 417.2,983.0 418.4,980.2 419.6,977.5 420.8,974.7 422.1,972.0 422.3,974.8 422.4,977.7 422.5,980.7 422.6,983.7 422.7,986.7 422.8,989.7 422.9,992.7 423.0,995.7 423.1,998.7 423.2,1001.7 423.3,1004.7 423.4,1007.7 423.5,1010.7 423.6,1013.7 423.7,1016.7 423.8,1019.7 423.9,1022.7 424.0,1025.7 424.1,1028.7 424.1,1031.7 424.2,1034.7 424.3,1037.7 424.4,1040.7 423.7,1043.4 422.9,1046.1 423.3,1049.0 423.7,1052.0 424.2,1055.0 424.7,1057.9 425.1,1060.9 425.6,1063.8 426.1,1066.8 426.6,1069.8 427.2,1072.7 427.7,1075.7 428.3,1078.6 428.8,1081.6 429.4,1084.5 430.0,1087.4 430.6,1090.4 431.3,1093.3 431.9,1096.2 432.5,1099.2 433.2,1102.1 433.9,1105.0 434.6,1107.9 435.2,1110.9 436.0,1113.8 436.7,1116.7 437.4,1119.6 438.1,1122.5 438.9,1125.4 439.7,1128.3 440.4,1131.2 441.2,1134.1 442.0,1137.0 442.8,1139.9 443.6,1142.8 444.4,1145.7 445.3,1148.5 446.1,1151.4 447.0,1154.3 447.8,1157.2 448.7,1160.1 449.6,1162.9 450.4,1165.8 451.3,1168.7 452.2,1171.5 453.1,1174.4 454.1,1177.2 455.0,1180.1 455.9,1182.9 456.8,1185.8 457.8,1188.6 458.7,1191.5 459.7,1194.3 460.7,1197.2 461.6,1200.0 462.6,1202.8 463.6,1205.7 464.6,1208.5 465.6,1211.3 466.6,1214.2 467.6,1217.0 468.6,1219.8 469.6,1222.6 470.6,1225.5 471.6,1228.3 472.7,1231.1 473.7,1233.9 474.8,1236.7 475.8,1239.5 476.8,1242.4 477.9,1245.2 479.0,1248.0 480.0,1250.8 481.1,1253.6 482.1,1256.4 483.2,1259.2 484.3,1262.0 485.4,1264.8 486.4,1267.6 487.5,1270.4 488.6,1273.2 489.7,1276.0 490.8,1278.8 491.9,1281.6 493.0,1284.4 494.1,1287.2 495.2,1289.9 496.3,1292.7 497.4,1295.5 498.5,1298.3 499.6,1301.1 500.7,1303.9 501.8,1306.7 502.9,1309.5 504.0,1312.3 505.1,1315.1 506.2,1317.8 507.3,1320.6 508.4,1323.4 509.5,1326.2 510.7,1329.0 511.8,1331.8 512.9,1334.6 514.0,1337.3 515.1,1340.1 516.3,1342.9 517.4,1345.7 518.5,1348.5 519.6,1351.2 520.8,1354.0 521.9,1356.8 523.0,1359.6 524.2,1362.4 525.3,1365.1 526.4,1367.9 527.6,1370.7 528.7,1373.5 529.8,1376.2 531.0,1379.0 532.1,1381.8 533.3,1384.6 534.4,1387.3 535.6,1390.1 536.7,1392.9 537.9,1395.6 539.0,1398.4 540.2,1401.2 541.4,1403.9 542.5,1406.7 543.7,1409.5 544.8,1412.2 546.0,1415.0 547.2,1417.8 548.3,1420.5 549.5,1423.3 550.7,1426.0 551.9,1428.8 553.1,1431.6 554.2,1434.3 555.4,1437.1 556.6,1439.8 557.8,1442.6 559.0,1445.3 560.2,1448.1 561.4,1450.9 562.6,1453.6 563.8,1456.4 565.0,1459.1 566.2,1461.8 567.4,1464.6 568.6,1467.3 569.8,1470.1 571.0,1472.8 572.2,1475.6 573.4,1478.3 574.7,1481.1 575.9,1483.8 577.1,1486.5 578.3,1489.3 579.6,1492.0 580.8,1494.7 582.0,1497.5 583.3,1500.2 584.5,1502.9 585.8,1505.7 587.0,1508.4 588.3,1511.1 589.5,1513.9 590.8,1516.6 592.0,1519.3 593.3,1522.0 594.5,1524.7 595.8,1527.5 597.1,1530.2 598.3,1532.9 599.6,1535.6 600.9,1538.3 602.2,1541.0 603.5,1543.8 604.7,1546.5 606.0,1549.2 607.3,1551.9 608.6,1554.6 609.9,1557.3 611.2,1560.0 612.5,1562.7" fill="none" stroke="#0000FF" stroke-width="1.6"/><polyline points="238.0,1500.0 239.4,1499.4 240.6,1496.1 241.8,1490.2 243.0,1484.3 244.2,1478.5 245.5,1472.8 246.7,1467.2 247.9,1461.9 249.1,1456.5 250.4,1451.1 251.6,1445.8 252.8,1440.7 254.1,1435.6 255.3,1430.5 256.5,1425.6 257.7,1420.8 259.0,1415.9 260.2,1411.1 261.5,1406.2 262.7,1401.7 263.9,1397.1 265.2,1392.5 266.4,1387.9 267.7,1383.3 268.9,1379.0 270.1,1374.6 271.3,1370.3 272.5,1366.0 273.8,1361.7 275.0,1357.3 276.3,1353.0 277.5,1349.0 278.7,1344.9 280.0,1340.8 281.2,1336.7 282.4,1332.7 283.7,1328.6 284.9,1324.6 286.2,1320.5 287.5,1316.4 288.7,1312.6 289.9,1308.8 291.1,1305.0 292.4,1301.2 293.6,1297.4 294.8,1293.6 296.1,1289.8 297.3,1286.0 298.6,1282.2 299.9,1278.4 301.2,1274.6 302.4,1271.1 303.6,1267.5 304.8,1264.0 306.0,1260.4 307.2,1256.9 308.5,1253.3 309.7,1249.8 310.9,1246.3 312.2,1242.7 313.5,1239.2 314.7,1235.7 316.0,1232.1 317.2,1228.6 318.5,1225.1 319.8,1221.6 321.1,1218.0 322.3,1214.7 323.5,1211.5 324.7,1208.2 325.9,1204.9 327.1,1201.6 328.4,1198.3 329.6,1195.1 330.8,1191.8 332.1,1188.5 333.3,1185.2 334.6,1182.0 335.8,1178.7 337.1,1175.4 338.3,1172.2 339.6,1168.9 340.8,1165.6 342.1,1162.4 343.4,1159.1 344.7,1155.9 345.9,1152.6 347.2,1149.3 348.5,1146.1 349.8,1142.8 351.0,1139.8 352.2,1136.8 353.4,1133.8 354.6,1130.8 355.8,1127.7 357.0,1124.7 358.3,1121.7 359.5,1118.7 360.7,1115.7 361.9,1112.7 363.2,1109.7 364.4,1106.7 365.6,1103.7 366.9,1100.6 368.1,1097.6 369.3,1094.6 370.6,1091.6 371.8,1088.6 373.1,1085.6 374.3,1082.6 375.6,1079.6 376.8,1076.6 378.1,1073.6 379.3,1070.6 380.6,1067.6 381.9,1064.7 383.1,1061.7 384.4,1058.7 385.7,1055.7 386.9,1052.7 388.2,1049.7 389.5,1046.7 390.8,1043.7 392.1,1040.7 393.3,1037.7 394.6,1034.8 395.9,1031.8 397.2,1028.8 398.5,1025.8 399.8,1022.8 401.1,1019.8 402.4,1016.9 403.7,1013.9 405.0,1010.9 406.3,1007.9 407.5,1005.2 408.7,1002.4 409.9,999.7 411.1,996.9 412.3,994.2 413.5,991.4 414.7,988.7 415.9,985.9 417.1,983.2 418.3,980.5 419.5,977.7 420.7,975.0 422.0,972.3 422.2,971.9 424.5,1042.5 423.2,1044.0 423.5,1050.0 424.4,1056.2 425.4,1062.4 426.4,1068.6 427.5,1074.7 428.7,1080.9 429.9,1087.0 431.2,1092.9 432.4,1098.5 433.6,1103.8 434.8,1109.2 436.1,1114.3 437.3,1119.1 438.5,1124.0 439.7,1128.6 441.0,1133.2 442.2,1137.8 443.4,1142.1 444.7,1146.4 445.9,1150.7 447.1,1154.8 448.3,1158.9 449.6,1163.0 450.8,1167.0 452.1,1171.1 453.3,1174.9 454.5,1178.7 455.8,1182.5 457.0,1186.3 458.3,1190.1 459.5,1193.9 460.7,1197.4 462.0,1201.0 463.2,1204.5 464.4,1208.1 465.7,1211.6 466.9,1215.1 468.2,1218.7 469.4,1222.2 470.7,1225.7 472.0,1229.3 473.2,1232.5 474.4,1235.8 475.6,1239.1 476.9,1242.4 478.1,1245.7 479.3,1248.9 480.6,1252.2 481.8,1255.5 483.0,1258.8 484.3,1262.0 485.6,1265.3 486.8,1268.6 488.1,1271.8 489.3,1275.1 490.6,1278.3 491.9,1281.6 493.2,1284.9 494.4,1288.1 495.7,1291.4 497.0,1294.6 498.3,1297.9 499.6,1301.1 500.9,1304.4 502.2,1307.7 503.4,1310.9 504.6,1313.9 505.9,1316.9 507.1,1320.0 508.3,1323.0 509.5,1326.0 510.7,1329.0 511.9,1332.0 513.1,1335.0 514.3,1338.1 515.5,1341.1 516.7,1344.1 518.0,1347.1 519.2,1350.1 520.4,1353.1 521.6,1356.1 522.8,1359.1 524.1,1362.2 525.3,1365.2 526.5,1368.2 527.8,1371.2 529.0,1374.2 530.2,1377.2 531.5,1380.2 532.7,1383.2 534.0,1386.2 535.2,1389.2 536.5,1392.2 537.7,1395.2 539.0,1398.2 540.2,1401.2 541.5,1404.2 542.7,1407.2 544.0,1410.2 545.2,1413.2 546.5,1416.2 547.8,1419.2 549.0,1422.2 550.3,1425.2 551.6,1428.2 552.9,1431.1 554.1,1434.1 555.4,1437.1 556.7,1440.1 558.0,1443.1 559.3,1446.1 560.6,1449.0 561.9,1452.0 563.2,1455.0 564.4,1457.8 565.6,1460.5 566.8,1463.3 568.0,1466.0 569.2,1468.7 570.4,1471.5 571.6,1474.2 572.8,1477.0 574.1,1479.7 575.3,1482.5 576.5,1485.2 577.7,1487.9 579.0,1490.7 580.2,1493.4 581.4,1496.1 582.7,1498.9 583.9,1501.6 585.2,1504.3 586.4,1507.1 587.6,1509.8 588.9,1512.5 590.1,1515.2 591.4,1518.0 592.7,1520.7 593.9,1523.4 595.2,1526.1 596.5,1528.9 597.7,1531.6 599.0,1534.3 600.3,1537.0 601.5,1539.7 602.8,1542.4 604.1,1545.1 605.4,1547.9 606.7,1550.6 608.0,1553.3 609.3,1556.0 610.6,1558.7 611.9,1561.4 613.1,1563.1 614.3,1563.4 614.6,1563.5" fill="none" stroke="none" marker-start="url(#mCiB)" marker-mid="url(#mCiB)" marker-end="url(#mCiB)"/>
<polyline points="237.0,1475.0 238.1,1472.3 238.6,1469.3 239.1,1466.4 239.6,1463.4 240.2,1460.5 240.7,1457.5 241.2,1454.5 241.7,1451.6 242.2,1448.6 242.7,1445.7 243.2,1442.7 243.7,1439.8 244.2,1436.8 244.7,1433.9 245.2,1430.9 245.8,1427.9 246.3,1425.0 246.8,1422.0 247.3,1419.1 247.8,1416.1 248.3,1413.1 248.8,1410.2 249.3,1407.2 249.8,1404.3 250.3,1401.3 250.8,1398.4 251.3,1395.4 251.8,1392.4 252.3,1389.5 252.8,1386.5 253.3,1383.6 253.8,1380.6 254.3,1377.6 254.8,1374.7 255.3,1371.7 255.8,1368.8 256.3,1365.8 256.8,1362.9 257.3,1359.9 257.8,1356.9 258.3,1354.0 258.8,1351.0 259.3,1348.1 259.8,1345.1 260.3,1342.2 260.8,1339.2 261.3,1336.2 261.8,1333.3 262.3,1330.3 262.8,1327.4 263.3,1324.4 263.8,1321.5 264.3,1318.5 264.8,1315.5 265.3,1312.6 265.9,1309.6 266.4,1306.7 266.9,1303.7 267.4,1300.8 267.9,1297.8 268.4,1294.9 269.0,1291.9 269.5,1288.9 270.0,1286.0 270.5,1283.0 271.1,1280.1 271.6,1277.1 272.1,1274.2 272.7,1271.2 273.2,1268.3 273.7,1265.3 274.3,1262.4 274.8,1259.4 275.4,1256.5 275.9,1253.5 276.4,1250.6 277.0,1247.6 277.5,1244.7 278.1,1241.7 278.7,1238.8 279.2,1235.8 279.8,1232.9 280.3,1229.9 280.9,1227.0 281.5,1224.0 282.0,1221.1 282.6,1218.2 283.2,1215.2 283.8,1212.3 284.4,1209.3 284.9,1206.4 285.5,1203.4 286.1,1200.5 286.7,1197.6 287.3,1194.6 287.9,1191.7 288.5,1188.7 289.1,1185.8 289.7,1182.9 290.3,1179.9 291.0,1177.0 291.6,1174.1 292.2,1171.1 292.8,1168.2 293.5,1165.3 294.1,1162.3 294.7,1159.4 295.4,1156.5 296.0,1153.5 296.7,1150.6 297.3,1147.7 298.0,1144.8 298.6,1141.8 299.3,1138.9 300.0,1136.0 300.7,1133.1 301.3,1130.1 302.0,1127.2 302.7,1124.3 303.4,1121.4 304.1,1118.4 304.8,1115.5 305.5,1112.6 306.2,1109.7 306.9,1106.8 307.6,1103.9 308.3,1101.0 309.1,1098.0 309.8,1095.1 310.5,1092.2 311.3,1089.3 312.0,1086.4 312.8,1083.5 313.5,1080.6 314.3,1077.7 315.0,1074.8 315.8,1071.9 316.6,1069.0 317.4,1066.1 318.2,1063.2 318.9,1060.3 319.7,1057.4 320.5,1054.5 321.3,1051.6 322.2,1048.8 323.0,1045.9 323.8,1043.0 324.6,1040.1 325.5,1037.2 326.3,1034.3 327.1,1031.5 328.0,1028.6 328.9,1025.7 329.7,1022.8 330.6,1020.0 331.5,1017.1 332.3,1014.2 333.2,1011.4 334.1,1008.5 335.0,1005.6 335.9,1002.8 336.8,999.9 337.7,997.1 338.7,994.2 339.6,991.4 340.5,988.5 341.5,985.7 342.4,982.8 343.4,980.0 344.3,977.1 345.3,974.3 346.2,972.4 346.2,975.4 346.3,978.4 346.3,981.4 346.3,984.4 346.4,987.4 346.4,990.4 346.4,993.4 346.5,996.4 346.5,999.4 346.5,1002.4 346.6,1005.4 346.6,1008.4 346.6,1011.4 346.6,1014.4 346.7,1017.4 346.7,1020.4 346.7,1023.4 346.8,1026.4 346.8,1029.4 346.8,1032.4 346.9,1035.4 346.9,1038.4 346.9,1041.3 347.0,1044.3 347.0,1047.3 347.0,1050.3 347.1,1053.3 347.1,1056.3 347.1,1059.3 347.1,1062.3 347.2,1065.3 347.2,1068.3 347.2,1071.3 347.3,1074.3 347.1,1077.3 347.1,1080.3 347.4,1083.3 347.7,1086.3 347.9,1089.3 348.2,1092.2 348.5,1095.2 348.8,1098.2 349.1,1101.2 349.4,1104.2 349.8,1107.2 350.1,1110.1 350.4,1113.1 350.8,1116.1 351.1,1119.1 351.5,1122.1 351.8,1125.0 352.2,1128.0 352.6,1131.0 353.0,1134.0 353.4,1136.9 353.8,1139.9 354.2,1142.9 354.6,1145.9 355.0,1148.8 355.4,1151.8 355.8,1154.8 356.3,1157.7 356.7,1160.7 357.2,1163.7 357.6,1166.6 358.1,1169.6 358.6,1172.6 359.1,1175.5 359.5,1178.5 360.0,1181.4 360.5,1184.4 361.0,1187.4 361.5,1190.3 362.0,1193.3 362.6,1196.2 363.1,1199.2 363.6,1202.1 364.2,1205.1 364.7,1208.0 365.2,1211.0 365.8,1213.9 366.4,1216.9 366.9,1219.8 367.5,1222.8 368.1,1225.7 368.6,1228.7 369.2,1231.6 369.8,1234.6 370.4,1237.5 371.0,1240.4 371.6,1243.4 372.2,1246.3 372.8,1249.2 373.5,1252.2 374.1,1255.1 374.7,1258.0 375.3,1261.0 376.0,1263.9 376.6,1266.8 377.3,1269.8 377.9,1272.7 378.6,1275.6 379.2,1278.6 379.9,1281.5 380.6,1284.4 381.2,1287.3 381.9,1290.3 382.6,1293.2 383.3,1296.1 383.9,1299.0 384.6,1301.9 385.3,1304.9 386.0,1307.8 386.7,1310.7 387.4,1313.6 388.1,1316.5 388.9,1319.4 389.6,1322.3 390.3,1325.3 391.0,1328.2 391.7,1331.1 392.5,1334.0 393.2,1336.9 393.9,1339.8 394.7,1342.7 395.4,1345.6 396.2,1348.5 396.9,1351.4 397.7,1354.3 398.4,1357.2 399.2,1360.2 399.9,1363.1 400.7,1366.0 401.4,1368.9 402.2,1371.8 403.0,1374.7 403.7,1377.6 404.5,1380.5 405.3,1383.4 406.1,1386.3 406.8,1389.2 407.6,1392.0 408.4,1394.9 409.2,1397.8 410.0,1400.7 410.8,1403.6 411.6,1406.5 412.4,1409.4 413.1,1412.3 413.9,1415.2 414.7,1418.1 415.5,1421.0 416.3,1423.9 417.1,1426.8 417.9,1429.7 418.8,1432.5 419.6,1435.4 420.4,1438.3 421.2,1441.2 422.0,1444.1 422.8,1447.0 423.6,1449.9 424.4,1452.8 425.2,1455.7 426.1,1458.5 426.9,1461.4 427.7,1464.3 428.5,1467.2 429.3,1470.1 430.1,1473.0 431.0,1475.9 431.8,1478.7 432.6,1481.6 433.4,1484.5 434.2,1487.4 435.1,1490.3 435.9,1493.2 436.7,1496.1 437.5,1498.9 438.4,1501.8 439.2,1504.7 440.0,1507.6 440.8,1510.5 441.6,1513.4 442.5,1516.2 443.3,1519.1 444.1,1522.0 444.9,1524.9 445.8,1527.8 446.6,1530.7 447.4,1533.6 448.2,1536.4 449.0,1539.3 449.9,1542.2 450.7,1545.1 451.5,1548.0 452.3,1550.9 453.1,1553.8 453.9,1556.7 454.8,1559.5 455.6,1562.4" fill="none" stroke="#FF00FF" stroke-width="1.6"/><polyline points="237.0,1475.0 238.7,1468.8 240.4,1459.2 242.0,1449.6 243.7,1439.8 245.4,1429.9 247.1,1420.0 248.8,1410.2 250.4,1400.3 252.1,1390.5 253.8,1380.6 255.4,1370.7 257.1,1360.9 258.8,1351.0 260.4,1341.2 262.1,1331.3 263.8,1321.5 265.5,1311.8 267.1,1302.2 268.8,1292.6 270.5,1283.3 272.2,1273.9 273.9,1264.6 275.5,1255.5 277.2,1246.4 278.9,1237.6 280.6,1228.7 282.2,1220.1 283.9,1211.5 285.6,1203.0 287.3,1194.6 289.0,1186.3 290.7,1178.2 292.4,1170.1 294.1,1162.3 295.8,1154.5 297.5,1146.9 299.2,1139.4 300.9,1132.1 302.6,1124.8 304.3,1117.7 306.0,1110.7 307.6,1103.9 309.3,1097.1 311.0,1090.3 312.7,1083.8 314.4,1077.2 316.1,1070.9 317.8,1064.7 319.5,1058.4 321.1,1052.4 322.8,1046.4 324.6,1040.3 326.2,1034.6 327.9,1028.8 329.6,1023.1 331.3,1017.6 333.0,1012.1 334.7,1006.6 336.4,1001.1 338.1,995.9 339.8,990.6 341.6,985.4 343.2,980.4 344.9,975.5 346.2,971.9 347.3,1076.7 347.9,1088.9 349.1,1101.1 350.4,1113.2 351.9,1125.4 353.4,1137.5 355.1,1149.7 356.8,1161.1 358.5,1171.9 360.2,1182.3 361.8,1192.1 363.5,1201.7 365.2,1210.8 366.9,1219.7 368.6,1228.3 370.2,1236.6 371.9,1244.9 373.6,1253.0 375.3,1260.8 377.0,1268.7 378.7,1276.2 380.4,1283.8 382.1,1291.1 383.8,1298.4 385.5,1305.4 387.2,1312.5 388.9,1319.5 390.6,1326.3 392.2,1333.1 394.0,1339.9 395.6,1346.5 397.3,1353.0 399.0,1359.5 400.7,1366.1 402.4,1372.6 404.1,1378.9 405.8,1385.1 407.5,1391.4 409.2,1397.7 410.9,1404.0 412.6,1410.2 414.3,1416.5 416.0,1422.5 417.6,1428.5 419.3,1434.6 421.0,1440.6 422.7,1446.6 424.4,1452.6 426.1,1458.6 427.8,1464.7 429.5,1470.7 431.2,1476.7 432.9,1482.7 434.6,1488.7 436.3,1494.7 438.0,1500.7 439.8,1506.7 441.5,1512.7 443.2,1518.8 444.9,1524.8 446.6,1530.8 448.3,1536.8 450.0,1542.8 451.7,1548.8 453.4,1554.8 455.1,1560.8 456.4,1563.8" fill="none" stroke="none" marker-start="url(#mTrM)" marker-mid="url(#mTrM)" marker-end="url(#mTrM)"/>
<polyline points="237.0,1446.0 237.8,1443.2 238.1,1440.2 238.3,1437.2 238.6,1434.2 238.9,1431.2 239.2,1428.3 239.4,1425.3 239.7,1422.3 240.0,1419.3 240.3,1416.3 240.6,1413.3 240.9,1410.3 241.2,1407.3 241.5,1404.4 241.8,1401.4 242.1,1398.4 242.4,1395.4 242.7,1392.4 243.0,1389.4 243.4,1386.5 243.7,1383.5 244.0,1380.5 244.3,1377.5 244.7,1374.5 245.0,1371.6 245.4,1368.6 245.7,1365.6 246.0,1362.6 246.4,1359.6 246.7,1356.7 247.1,1353.7 247.4,1350.7 247.8,1347.7 248.2,1344.7 248.5,1341.8 248.9,1338.8 249.3,1335.8 249.6,1332.8 250.0,1329.9 250.4,1326.9 250.8,1323.9 251.2,1320.9 251.5,1318.0 251.9,1315.0 252.3,1312.0 252.7,1309.0 253.1,1306.1 253.5,1303.1 253.9,1300.1 254.3,1297.1 254.7,1294.2 255.1,1291.2 255.5,1288.2 256.0,1285.2 256.4,1282.3 256.8,1279.3 257.2,1276.3 257.6,1273.4 258.1,1270.4 258.5,1267.4 258.9,1264.5 259.4,1261.5 259.8,1258.5 260.2,1255.6 260.7,1252.6 261.1,1249.6 261.5,1246.7 262.0,1243.7 262.4,1240.7 262.9,1237.8 263.3,1234.8 263.8,1231.8 264.2,1228.9 264.7,1225.9 265.2,1222.9 265.6,1220.0 266.1,1217.0 266.6,1214.0 267.0,1211.1 267.5,1208.1 268.0,1205.1 268.4,1202.2 268.9,1199.2 269.4,1196.3 269.9,1193.3 270.3,1190.3 270.8,1187.4 271.3,1184.4 271.8,1181.5 272.3,1178.5 272.8,1175.5 273.3,1172.6 273.8,1169.6 274.2,1166.7 274.7,1163.7 275.2,1160.7 275.7,1157.8 276.2,1154.8 276.7,1151.9 277.2,1148.9 277.7,1145.9 278.2,1143.0 278.8,1140.0 279.3,1137.1 279.8,1134.1 280.3,1131.2 280.8,1128.2 281.3,1125.3 281.8,1122.3 282.3,1119.3 282.9,1116.4 283.4,1113.4 283.9,1110.5 284.4,1107.5 284.9,1104.6 285.5,1101.6 286.0,1098.7 286.5,1095.7 287.0,1092.8 287.6,1089.8 288.1,1086.8 288.6,1083.9 289.1,1080.9 289.7,1078.0 290.2,1075.0 290.7,1072.1 291.3,1069.1 291.8,1066.2 292.4,1063.2 292.9,1060.3 293.4,1057.3 294.0,1054.4 294.5,1051.4 295.0,1048.5 295.6,1045.5 296.1,1042.6 296.7,1039.6 297.2,1036.7 297.8,1033.7 298.3,1030.8 298.9,1027.8 299.4,1024.9 299.9,1021.9 300.5,1019.0 301.0,1016.0 301.6,1013.1 302.1,1010.1 302.7,1007.2 303.2,1004.2 303.8,1001.3 304.3,998.3 304.9,995.4 305.4,992.4 306.0,989.5 306.5,986.5 307.1,983.6 307.7,980.6 308.2,977.7 308.8,974.7 308.7,972.0 308.7,975.0 308.8,978.0 308.8,981.0 308.9,984.0 308.9,987.0 309.0,990.0 309.0,993.0 309.1,996.0 309.1,999.0 309.2,1002.0 309.2,1005.0 309.3,1008.0 309.3,1011.0 309.4,1014.0 309.4,1017.0 309.5,1020.0 309.5,1023.0 309.5,1026.0 309.6,1029.0 309.6,1032.0 309.7,1035.0 309.7,1038.0 309.8,1041.0 309.8,1044.0 309.9,1047.0 309.9,1050.0 310.0,1053.0 310.0,1056.0 310.1,1059.0 310.1,1062.0 310.2,1065.0 310.2,1068.0 310.3,1071.0 310.3,1074.0 310.4,1077.0 310.4,1080.0 310.4,1083.0 310.5,1086.0 310.5,1089.0 310.6,1092.0 310.6,1095.0 310.7,1098.0 310.7,1101.0 310.8,1104.0 310.8,1107.0 310.9,1110.0 311.5,1112.8 311.7,1115.8 311.8,1118.8 312.0,1121.8 312.1,1124.8 312.3,1127.8 312.5,1130.8 312.7,1133.7 312.9,1136.7 313.1,1139.7 313.3,1142.7 313.5,1145.7 313.7,1148.7 313.9,1151.7 314.1,1154.7 314.4,1157.7 314.6,1160.7 314.9,1163.7 315.1,1166.7 315.4,1169.6 315.7,1172.6 316.0,1175.6 316.2,1178.6 316.5,1181.6 316.8,1184.6 317.1,1187.6 317.5,1190.5 317.8,1193.5 318.1,1196.5 318.4,1199.5 318.8,1202.5 319.1,1205.5 319.4,1208.4 319.8,1211.4 320.2,1214.4 320.5,1217.4 320.9,1220.3 321.3,1223.3 321.7,1226.3 322.0,1229.3 322.4,1232.2 322.8,1235.2 323.2,1238.2 323.6,1241.2 324.1,1244.1 324.5,1247.1 324.9,1250.1 325.3,1253.0 325.8,1256.0 326.2,1259.0 326.6,1261.9 327.1,1264.9 327.5,1267.9 328.0,1270.8 328.4,1273.8 328.9,1276.8 329.4,1279.7 329.8,1282.7 330.3,1285.7 330.8,1288.6 331.3,1291.6 331.8,1294.5 332.3,1297.5 332.8,1300.5 333.3,1303.4 333.8,1306.4 334.3,1309.3 334.8,1312.3 335.3,1315.3 335.8,1318.2 336.3,1321.2 336.8,1324.1 337.4,1327.1 337.9,1330.0 338.4,1333.0 339.0,1335.9 339.5,1338.9 340.0,1341.8 340.6,1344.8 341.1,1347.7 341.7,1350.7 342.2,1353.6 342.8,1356.6 343.3,1359.5 343.9,1362.5 344.4,1365.4 345.0,1368.4 345.6,1371.3 346.1,1374.3 346.7,1377.2 347.3,1380.1 347.9,1383.1 348.4,1386.0 349.0,1389.0 349.6,1391.9 350.2,1394.9 350.7,1397.8 351.3,1400.8 351.9,1403.7 352.5,1406.6 353.1,1409.6 353.7,1412.5 354.2,1415.5 354.8,1418.4 355.4,1421.4 356.0,1424.3 356.6,1427.2 357.2,1430.2 357.8,1433.1 358.4,1436.1 359.0,1439.0 359.6,1441.9 360.2,1444.9 360.8,1447.8 361.4,1450.8 362.0,1453.7 362.5,1456.6 363.1,1459.6 363.7,1462.5 364.3,1465.5 364.9,1468.4 365.5,1471.3 366.1,1474.3 366.7,1477.2 367.3,1480.2 367.9,1483.1 368.5,1486.0 369.1,1489.0 369.7,1491.9 370.3,1494.9 370.9,1497.8 371.5,1500.7 372.1,1503.7 372.6,1506.6 373.2,1509.6 373.8,1512.5 374.4,1515.5 375.0,1518.4 375.6,1521.3 376.2,1524.3 376.7,1527.2 377.3,1530.2 377.9,1533.1 378.5,1536.1 379.0,1539.0 379.6,1542.0 380.2,1544.9 380.7,1547.8 381.3,1550.8 381.9,1553.7 382.4,1556.7 383.0,1559.6 383.3,1562.5" fill="none" stroke="#000000" stroke-width="1.6"/><polyline points="237.0,1446.0 238.6,1434.0 239.8,1421.8 241.0,1409.6 242.2,1397.4 243.5,1385.2 244.8,1373.0 246.2,1360.9 247.7,1348.7 249.2,1336.6 250.7,1324.4 252.3,1312.2 253.9,1300.1 255.6,1288.0 257.3,1276.1 258.9,1264.5 260.6,1253.1 262.3,1242.0 263.9,1230.8 265.6,1220.0 267.3,1209.3 269.0,1198.7 270.7,1188.4 272.4,1178.0 274.0,1167.9 275.7,1157.8 277.4,1147.9 279.1,1138.1 280.8,1128.2 282.5,1118.6 284.2,1109.0 285.8,1099.4 287.5,1090.0 289.2,1080.7 290.9,1071.3 292.6,1062.0 294.2,1052.9 295.9,1043.8 297.6,1034.7 299.3,1025.6 300.9,1016.5 302.6,1007.4 304.3,998.3 306.0,989.2 307.7,980.1 308.7,971.9 310.9,1111.9 312.1,1123.9 312.8,1136.2 313.7,1148.4 314.6,1160.6 315.7,1172.8 316.9,1185.0 318.2,1197.2 319.6,1209.4 321.0,1221.5 322.6,1233.7 324.3,1245.8 326.0,1257.4 327.6,1268.6 329.3,1279.4 331.0,1289.8 332.7,1299.9 334.3,1309.8 336.0,1319.4 337.7,1329.0 339.4,1338.3 341.1,1347.4 342.8,1356.5 344.4,1365.3 346.1,1374.2 347.8,1382.8 349.5,1391.4 351.2,1400.0 352.9,1408.5 354.5,1416.9 356.2,1425.2 357.9,1433.5 359.6,1441.9 361.2,1450.2 362.9,1458.5 364.6,1466.9 366.3,1475.2 368.0,1483.5 369.7,1491.9 371.4,1500.2 373.0,1508.5 374.7,1516.9 376.4,1525.4 378.1,1534.0 379.7,1542.6 381.4,1551.5 383.1,1560.3 382.6,1563.5" fill="none" stroke="none" marker-start="url(#mTrK)" marker-mid="url(#mTrK)" marker-end="url(#mTrK)"/>
<polyline points="237.0,1413.0 237.1,1410.0 237.4,1407.0 237.6,1404.0 237.8,1401.0 238.1,1398.0 238.3,1395.1 238.5,1392.1 238.8,1389.1 239.0,1386.1 239.2,1383.1 239.5,1380.1 239.7,1377.1 239.9,1374.1 240.1,1371.1 240.3,1368.1 240.5,1365.1 240.7,1362.1 241.0,1359.2 241.2,1356.2 241.4,1353.2 241.6,1350.2 241.8,1347.2 242.0,1344.2 242.2,1341.2 242.4,1338.2 242.6,1335.2 242.8,1332.2 243.0,1329.2 243.2,1326.2 243.4,1323.2 243.6,1320.2 243.8,1317.2 244.0,1314.3 244.2,1311.3 244.4,1308.3 244.6,1305.3 244.8,1302.3 245.0,1299.3 245.2,1296.3 245.4,1293.3 245.6,1290.3 245.7,1287.3 245.9,1284.3 246.1,1281.3 246.3,1278.3 246.5,1275.3 246.8,1272.3 247.0,1269.4 247.2,1266.4 247.4,1263.4 247.6,1260.4 247.8,1257.4 248.0,1254.4 248.2,1251.4 248.4,1248.4 248.6,1245.4 248.8,1242.4 249.1,1239.4 249.3,1236.4 249.5,1233.4 249.7,1230.5 249.9,1227.5 250.2,1224.5 250.4,1221.5 250.6,1218.5 250.9,1215.5 251.1,1212.5 251.4,1209.5 251.6,1206.5 251.8,1203.5 252.1,1200.5 252.4,1197.6 252.6,1194.6 252.9,1191.6 253.1,1188.6 253.4,1185.6 253.7,1182.6 253.9,1179.6 254.2,1176.6 254.5,1173.7 254.8,1170.7 255.1,1167.7 255.4,1164.7 255.7,1161.7 256.0,1158.7 256.3,1155.7 256.6,1152.8 256.9,1149.8 257.2,1146.8 257.5,1143.8 257.9,1140.8 258.2,1137.8 258.5,1134.9 258.9,1131.9 259.2,1128.9 259.6,1125.9 259.9,1122.9 260.3,1120.0 260.7,1117.0 261.0,1114.0 261.4,1111.0 261.8,1108.1 262.2,1105.1 262.6,1102.1 263.0,1099.1 263.4,1096.2 263.8,1093.2 264.2,1090.2 264.7,1087.3 265.1,1084.3 265.5,1081.3 266.0,1078.4 266.4,1075.4 266.9,1072.4 267.4,1069.5 267.8,1066.5 268.3,1063.5 268.8,1060.6 269.3,1057.6 269.8,1054.7 270.3,1051.7 270.8,1048.7 271.3,1045.8 271.9,1042.8 272.4,1039.9 273.0,1036.9 273.5,1034.0 274.1,1031.0 274.6,1028.1 275.2,1025.2 275.8,1022.2 276.4,1019.3 277.0,1016.3 277.6,1013.4 278.2,1010.5 278.9,1007.5 279.5,1004.6 280.1,1001.7 280.8,998.7 281.5,995.8 282.1,992.9 282.8,990.0 283.5,987.0 284.2,984.1 284.9,981.2 285.6,978.3 286.3,975.4 287.2,972.6 287.8,974.0 287.8,977.0 287.9,980.0 287.9,983.0 287.9,986.0 287.9,989.0 287.9,992.0 288.0,995.0 288.0,998.0 288.0,1001.0 288.0,1004.0 288.0,1007.0 288.1,1010.0 288.1,1013.0 288.1,1016.0 288.1,1019.0 288.1,1022.0 288.2,1025.0 288.2,1028.0 288.2,1031.0 288.2,1034.0 288.2,1037.0 288.3,1040.0 288.3,1043.0 288.3,1046.0 288.3,1049.0 288.3,1052.0 288.4,1055.0 288.4,1058.0 288.4,1061.0 288.4,1064.0 288.4,1067.0 288.5,1070.0 288.5,1073.0 288.5,1076.0 288.5,1079.0 288.5,1082.0 288.6,1085.0 288.6,1088.0 288.6,1091.0 288.6,1094.0 288.6,1097.0 288.7,1100.0 288.7,1103.0 288.7,1106.0 288.7,1109.0 288.7,1112.0 288.8,1115.0 288.8,1118.0 288.8,1121.0 288.8,1124.0 288.8,1127.0 288.9,1130.0 288.9,1133.0 288.9,1136.0 289.9,1138.7 290.0,1141.6 290.2,1144.6 290.4,1147.6 290.6,1150.6 290.8,1153.6 291.0,1156.6 291.2,1159.6 291.4,1162.6 291.6,1165.6 291.8,1168.6 292.0,1171.6 292.2,1174.6 292.4,1177.6 292.6,1180.6 292.8,1183.6 293.0,1186.6 293.2,1189.5 293.4,1192.5 293.6,1195.5 293.9,1198.5 294.1,1201.5 294.3,1204.5 294.5,1207.5 294.7,1210.5 294.9,1213.5 295.2,1216.5 295.4,1219.5 295.6,1222.5 295.8,1225.4 296.1,1228.4 296.3,1231.4 296.5,1234.4 296.7,1237.4 297.0,1240.4 297.2,1243.4 297.4,1246.4 297.7,1249.4 297.9,1252.4 298.2,1255.4 298.4,1258.3 298.7,1261.3 298.9,1264.3 299.2,1267.3 299.4,1270.3 299.7,1273.3 299.9,1276.3 300.2,1279.3 300.4,1282.3 300.7,1285.3 301.0,1288.2 301.2,1291.2 301.5,1294.2 301.8,1297.2 302.1,1300.2 302.3,1303.2 302.6,1306.2 302.9,1309.1 303.2,1312.1 303.5,1315.1 303.8,1318.1 304.1,1321.1 304.4,1324.1 304.7,1327.1 305.0,1330.0 305.3,1333.0 305.6,1336.0 305.9,1339.0 306.2,1342.0 306.5,1345.0 306.8,1348.0 307.1,1350.9 307.5,1353.9 307.8,1356.9 308.1,1359.9 308.5,1362.9 308.8,1365.8 309.1,1368.8 309.5,1371.8 309.8,1374.8 310.2,1377.8 310.5,1380.7 310.9,1383.7 311.2,1386.7 311.6,1389.7 311.9,1392.7 312.3,1395.6 312.7,1398.6 313.1,1401.6 313.4,1404.6 313.8,1407.5 314.2,1410.5 314.6,1413.5 315.0,1416.5 315.4,1419.4 315.8,1422.4 316.2,1425.4 316.6,1428.4 317.0,1431.3 317.4,1434.3 317.8,1437.3 318.2,1440.2 318.7,1443.2 319.1,1446.2 319.5,1449.2 320.0,1452.1 320.4,1455.1 320.8,1458.1 321.3,1461.0 321.7,1464.0 322.2,1467.0 322.7,1469.9 323.1,1472.9 323.6,1475.8 324.1,1478.8 324.5,1481.8 325.0,1484.7 325.5,1487.7 326.0,1490.6 326.5,1493.6 327.0,1496.6 327.5,1499.5 328.0,1502.5 328.5,1505.4 329.0,1508.4 329.5,1511.3 330.1,1514.3 330.6,1517.3 331.1,1520.2 331.7,1523.2 332.2,1526.1 332.8,1529.1 333.3,1532.0 333.9,1535.0 334.4,1537.9 335.0,1540.8 335.6,1543.8 336.1,1546.7 336.7,1549.7 337.3,1552.6 337.9,1555.6 338.5,1558.5 339.1,1561.4" fill="none" stroke="#FF0000" stroke-width="1.6"/><polyline points="237.0,1413.0 237.9,1400.8 238.8,1388.6 239.7,1376.4 240.6,1364.1 241.5,1351.9 242.3,1339.7 243.1,1327.5 243.9,1315.3 244.7,1303.0 245.5,1290.8 246.3,1278.6 247.2,1266.4 248.0,1254.1 248.9,1241.9 249.8,1229.7 250.7,1217.5 251.7,1205.3 252.7,1193.1 253.8,1180.9 255.0,1168.7 256.2,1156.5 257.5,1144.3 258.8,1132.1 260.3,1120.0 261.8,1107.8 263.5,1095.7 265.1,1084.0 266.8,1072.9 268.5,1062.3 270.2,1052.4 271.9,1042.8 273.6,1033.7 275.2,1025.2 276.9,1016.8 278.6,1008.7 280.3,1000.9 282.0,993.4 283.7,986.1 285.4,979.0 287.2,972.6 287.8,971.9 288.9,1137.3 290.5,1149.2 291.3,1161.4 292.1,1173.6 293.0,1185.8 293.8,1198.0 294.7,1210.3 295.6,1222.5 296.5,1234.7 297.5,1246.9 298.5,1259.1 299.5,1271.3 300.6,1283.5 301.7,1295.7 302.8,1307.9 304.0,1320.1 305.2,1332.3 306.5,1344.5 307.8,1356.7 309.1,1368.8 310.5,1381.0 312.0,1393.2 313.5,1405.3 315.1,1417.5 316.8,1429.6 318.4,1441.5 320.1,1453.1 321.8,1464.3 323.5,1475.1 325.2,1485.5 326.8,1495.6 328.5,1505.5 330.2,1515.1 331.9,1524.4 333.6,1533.5 335.3,1542.3 337.0,1550.9 338.6,1559.3 339.2,1564.2" fill="none" stroke="none" marker-start="url(#mDiR)" marker-mid="url(#mDiR)" marker-end="url(#mDiR)"/>
</g>
<g clip-path="url(#clipC)">
<polyline points="240.3,2372.0 239.9,2361.1 239.7,2350.1 239.7,2339.1 239.7,2328.2 239.8,2317.2 240.0,2306.3 240.3,2295.4 240.6,2284.4 241.1,2273.5 241.5,2262.5 242.1,2251.6 242.7,2240.7 243.4,2229.8 244.1,2218.8 244.9,2207.9 245.8,2197.0 246.7,2186.1 247.6,2175.2 248.6,2164.3 249.7,2153.4 250.8,2142.5 252.0,2131.6 253.1,2120.7 254.4,2109.8 255.6,2098.9 256.9,2088.0 258.3,2077.1 259.6,2066.3 261.0,2055.4 262.5,2044.5 263.9,2033.7 265.4,2022.8 266.9,2012.0 268.4,2001.1 269.9,1990.3 271.4,1979.5 273.0,1968.6 274.6,1957.8 276.5,1947.0 277.1,2007.5 276.8,2012.1 276.9,2016.0 277.1,2019.9 277.3,2023.8 277.5,2027.7 277.7,2031.6 277.9,2035.5 278.1,2039.3 278.3,2043.2 278.5,2047.1 278.8,2051.0 279.0,2054.9 279.3,2058.7 279.5,2062.6 279.8,2066.5 280.0,2070.3 280.3,2074.2 280.6,2078.0 280.9,2081.9 281.2,2085.7 281.5,2089.6 281.8,2093.4 282.1,2097.2 282.4,2101.1 282.8,2104.9 283.1,2108.7 283.4,2112.5 283.8,2116.4 284.1,2120.2 284.5,2124.0 284.8,2127.8 285.2,2131.6 285.6,2135.4 285.9,2139.2 286.3,2143.0 286.7,2146.8 287.1,2150.6 287.4,2154.4 287.8,2158.2 288.2,2162.0 288.6,2165.8 289.0,2169.5 289.4,2173.3 289.8,2177.1 290.2,2180.9 290.6,2184.6 291.0,2188.4 291.4,2192.2 291.9,2195.9 292.3,2199.7 292.7,2203.4 293.1,2207.2 293.5,2210.9 294.0,2214.7 294.4,2218.4 294.8,2222.2 295.2,2225.9 295.6,2229.6 296.1,2233.4 296.5,2237.1 296.9,2240.8 297.3,2244.6 297.8,2248.3 298.2,2252.0 298.6,2255.7 299.1,2259.4 299.5,2263.2 299.9,2266.9 300.4,2270.6 300.8,2274.3 301.2,2278.0 301.7,2281.7 302.1,2285.4 302.5,2289.1 303.0,2292.8 303.4,2296.5 303.8,2300.2 304.3,2303.9 304.7,2307.6 305.2,2311.3 305.6,2315.0 306.0,2318.6 306.5,2322.3 306.9,2326.0 307.4,2329.7 307.8,2333.4 308.3,2337.0 308.7,2340.7 309.2,2344.4 309.6,2348.1 310.1,2351.7 310.5,2355.4 311.0,2359.1 311.5,2362.7 311.9,2366.4 312.4,2370.0 312.8,2373.7 313.3,2377.4 313.8,2381.0 314.2,2384.7 314.7,2388.3 315.2,2392.0 315.7,2395.6 316.1,2399.3 316.6,2402.9 317.1,2406.6 317.6,2410.2 318.0,2413.9 318.5,2417.5 319.0,2421.1 319.5,2424.8 320.0,2428.4 320.5,2432.0 321.0,2435.7 321.5,2439.3 322.0,2443.0 322.5,2446.6 323.0,2450.2 323.8,2453.2 324.4,2398.9 325.1,2395.3 325.3,2391.4 325.5,2387.4 325.8,2383.5 326.0,2379.6 326.3,2375.6 326.5,2371.7 326.8,2367.7 327.0,2363.8 327.3,2359.9 327.5,2356.0 327.8,2352.0 328.1,2348.1 328.4,2344.2 328.6,2340.3 328.9,2336.4 329.2,2332.5 329.5,2328.6 329.8,2324.7 330.1,2320.8 330.4,2316.9 330.7,2313.0 331.0,2309.1 331.3,2305.2 331.6,2301.3 331.9,2297.5 332.2,2293.6 332.5,2289.7 332.9,2285.8 333.2,2282.0 333.5,2278.1 333.8,2274.2 334.2,2270.4 334.5,2266.5 334.8,2262.7 335.2,2258.8 335.5,2255.0 335.9,2251.1 336.2,2247.3 336.6,2243.4 336.9,2239.6 337.3,2235.8 337.6,2231.9 338.0,2228.1 338.3,2224.3 338.7,2220.4 339.1,2216.6 339.4,2212.8 339.8,2209.0 340.2,2205.2 340.6,2201.4 340.9,2197.5 341.3,2193.7 341.7,2189.9 342.1,2186.1 342.5,2182.3 342.9,2178.5 343.3,2174.7 343.7,2170.9 344.1,2167.2 344.5,2163.4 344.9,2159.6 345.3,2155.8 345.7,2152.0 346.1,2148.2 346.5,2144.5 346.9,2140.7 347.3,2136.9 347.7,2133.1 348.1,2129.4 348.5,2125.6 349.0,2121.8 349.4,2118.1 349.8,2114.3 350.2,2110.6 350.7,2106.8 351.1,2103.0 351.5,2099.3 351.9,2095.5 352.4,2091.8 352.8,2088.1 353.2,2084.3 353.7,2080.6 354.1,2076.8 354.6,2073.1 355.0,2069.4 355.4,2065.6 355.9,2061.9 356.3,2058.2 356.8,2054.4 357.2,2050.7 357.7,2047.0 358.1,2043.3 358.6,2039.5 359.0,2035.8 359.5,2032.1 359.9,2028.4 360.4,2024.7 360.8,2021.0 361.3,2017.2 361.8,2013.5 362.2,2009.8 362.7,2006.1 363.1,2002.4 363.6,1998.7 364.1,1995.0 364.5,1991.3 365.0,1987.6 365.5,1983.9 365.9,1980.2 366.4,1976.5 366.9,1972.9 367.3,1969.2 367.8,1965.5 368.3,1961.8 368.8,1958.1 369.2,1954.4 369.7,1950.7 370.2,1947.1 370.8,2007.5 370.5,2012.1 370.6,2016.0 370.8,2019.9 371.0,2023.8 371.2,2027.7 371.4,2031.6 371.6,2035.5 371.8,2039.3 372.0,2043.2 372.2,2047.1 372.5,2051.0 372.7,2054.9 373.0,2058.7 373.2,2062.6 373.5,2066.5 373.8,2070.3 374.0,2074.2 374.3,2078.0 374.6,2081.9 374.9,2085.7 375.2,2089.6 375.5,2093.4 375.9,2097.2 376.2,2101.1 376.5,2104.9 376.9,2108.7 377.2,2112.5 377.5,2116.4 377.9,2120.2 378.2,2124.0 378.6,2127.8 379.0,2131.6 379.3,2135.4 379.7,2139.2 380.1,2143.0 380.5,2146.8 380.8,2150.6 381.2,2154.4 381.6,2158.2 382.0,2162.0 382.4,2165.8 382.8,2169.5 383.2,2173.3 383.6,2177.1 384.0,2180.9 384.4,2184.6 384.9,2188.4 385.3,2192.2 385.7,2195.9 386.1,2199.7 386.5,2203.4 386.9,2207.2 387.4,2210.9 387.8,2214.7 388.2,2218.4 388.6,2222.2 389.1,2225.9 389.5,2229.6 389.9,2233.4 390.4,2237.1 390.8,2240.8 391.2,2244.6 391.7,2248.3 392.1,2252.0 392.5,2255.7 392.9,2259.4 393.4,2263.2 393.8,2266.9 394.3,2270.6 394.7,2274.3 395.1,2278.0 395.6,2281.7 396.0,2285.4 396.4,2289.1 396.9,2292.8 397.3,2296.5 397.8,2300.2 398.2,2303.9 398.6,2307.6 399.1,2311.3 399.5,2315.0 400.0,2318.6 400.4,2322.3 400.9,2326.0 401.3,2329.7 401.8,2333.4 402.2,2337.0 402.7,2340.7 403.2,2344.4 403.6,2348.1 404.1,2351.7 404.5,2355.4 405.0,2359.1 405.5,2362.7 405.9,2366.4 406.4,2370.0 406.9,2373.7 407.3,2377.4 407.8,2381.0 408.3,2384.7 408.7,2388.3 409.2,2392.0 409.7,2395.6 410.2,2399.3 410.6,2402.9 411.1,2406.6 411.6,2410.2 412.1,2413.9 412.6,2417.5 413.1,2421.1 413.6,2424.8 414.1,2428.4 414.6,2432.0 415.1,2435.7 415.6,2439.3 416.1,2443.0 416.6,2446.6 417.1,2450.2 417.9,2453.2 418.5,2398.9 419.2,2395.3 419.4,2391.4 419.6,2387.4 419.9,2383.5 420.1,2379.6 420.4,2375.6 420.6,2371.7 420.9,2367.7 421.1,2363.8 421.4,2359.9 421.7,2356.0 421.9,2352.0 422.2,2348.1 422.5,2344.2 422.8,2340.3 423.0,2336.4 423.3,2332.5 423.6,2328.6 423.9,2324.7 424.2,2320.8 424.5,2316.9 424.8,2313.0 425.1,2309.1 425.4,2305.2 425.7,2301.3 426.0,2297.5 426.3,2293.6 426.7,2289.7 427.0,2285.8 427.3,2282.0 427.6,2278.1 428.0,2274.2 428.3,2270.4 428.6,2266.5 429.0,2262.7 429.3,2258.8 429.6,2255.0 430.0,2251.1 430.3,2247.3 430.7,2243.4 431.0,2239.6 431.4,2235.8 431.8,2231.9 432.1,2228.1 432.5,2224.3 432.8,2220.4 433.2,2216.6 433.6,2212.8 434.0,2209.0 434.3,2205.2 434.7,2201.4 435.1,2197.5 435.5,2193.7 435.8,2189.9 436.2,2186.1 436.6,2182.3 437.0,2178.5 437.4,2174.7 437.8,2170.9 438.2,2167.2 438.6,2163.4 439.0,2159.6 439.4,2155.8 439.8,2152.0 440.2,2148.2 440.6,2144.5 441.0,2140.7 441.4,2136.9 441.9,2133.1 442.3,2129.4 442.7,2125.6 443.1,2121.8 443.5,2118.1 444.0,2114.3 444.4,2110.6 444.8,2106.8 445.2,2103.0 445.7,2099.3 446.1,2095.5 446.5,2091.8 447.0,2088.1 447.4,2084.3 447.8,2080.6 448.3,2076.8 448.7,2073.1 449.2,2069.4 449.6,2065.6 450.1,2061.9 450.5,2058.2 450.9,2054.4 451.4,2050.7 451.8,2047.0 452.3,2043.3 452.7,2039.5 453.2,2035.8 453.7,2032.1 454.1,2028.4 454.6,2024.7 455.0,2021.0 455.5,2017.2 455.9,2013.5 456.4,2009.8 456.9,2006.1 457.3,2002.4 457.8,1998.7 458.3,1995.0 458.7,1991.3 459.2,1987.6 459.7,1983.9 460.1,1980.2 460.6,1976.5 461.1,1972.9 461.5,1969.2 462.0,1965.5 462.5,1961.8 463.0,1958.1 463.4,1954.4 463.9,1950.7 464.4,1947.1 465.0,2007.5 464.7,2012.1 464.8,2016.0 465.0,2019.9 465.2,2023.8 465.4,2027.7 465.6,2031.6 465.8,2035.5 466.0,2039.3 466.2,2043.2 466.5,2047.1 466.7,2051.0 467.0,2054.9 467.2,2058.7 467.5,2062.6 467.7,2066.5 468.0,2070.3 468.3,2074.2 468.6,2078.0 468.9,2081.9 469.2,2085.7 469.5,2089.6 469.8,2093.4 470.2,2097.2 470.5,2101.1 470.8,2104.9 471.2,2108.7 471.5,2112.5 471.8,2116.4 472.2,2120.2 472.6,2124.0 472.9,2127.8 473.3,2131.6 473.7,2135.4 474.1,2139.2 474.4,2143.0 474.8,2146.8 475.2,2150.6 475.6,2154.4 476.0,2158.2 476.4,2162.0 476.8,2165.8 477.2,2169.5 477.6,2173.3 478.0,2177.1 478.5,2180.9 478.9,2184.6 479.3,2188.4 479.7,2192.2 480.1,2195.9 480.6,2199.7 481.0,2203.4 481.4,2207.2 481.9,2210.9 482.3,2214.7 482.7,2218.4 483.2,2222.2 483.6,2225.9 484.0,2229.6 484.5,2233.4 484.9,2237.1 485.3,2240.8 485.8,2244.6 486.2,2248.3 486.6,2252.0 487.1,2255.7 487.5,2259.4 488.0,2263.2 488.4,2266.9 488.8,2270.6 489.3,2274.3 489.7,2278.0 490.2,2281.7 490.6,2285.4 491.1,2289.1 491.5,2292.8 492.0,2296.5 492.4,2300.2 492.9,2303.9 493.3,2307.6 493.8,2311.3 494.2,2315.0 494.7,2318.6 495.1,2322.3 495.6,2326.0 496.1,2329.7 496.5,2333.4 497.0,2337.0 497.4,2340.7 497.9,2344.4 498.4,2348.1 498.8,2351.7 499.3,2355.4 499.8,2359.1 500.2,2362.7 500.7,2366.4 501.2,2370.0 501.7,2373.7 502.1,2377.4 502.6,2381.0 503.1,2384.7 503.6,2388.3 504.1,2392.0 504.5,2395.6 505.0,2399.3 505.5,2402.9 506.0,2406.6 506.5,2410.2 507.0,2413.9 507.5,2417.5 508.0,2421.1 508.5,2424.8 509.0,2428.4 509.5,2432.0 510.0,2435.7 510.5,2439.3 511.0,2443.0 511.5,2446.6 512.0,2450.2 512.9,2453.2 513.5,2398.9 514.2,2395.3 514.4,2391.4 514.6,2387.4 514.9,2383.5 515.1,2379.6 515.4,2375.6 515.6,2371.7 515.9,2367.7 516.1,2363.8 516.4,2359.9 516.7,2356.0 516.9,2352.0 517.2,2348.1 517.5,2344.2 517.8,2340.3 518.0,2336.4 518.3,2332.5 518.6,2328.6 518.9,2324.7 519.2,2320.8 519.5,2316.9 519.8,2313.0 520.1,2309.1 520.4,2305.2 520.7,2301.3 521.0,2297.5 521.3,2293.6 521.7,2289.7 522.0,2285.8 522.3,2282.0 522.6,2278.1 523.0,2274.2 523.3,2270.4 523.6,2266.5 524.0,2262.7 524.3,2258.8 524.6,2255.0 525.0,2251.1 525.3,2247.3 525.7,2243.4 526.0,2239.6 526.4,2235.8 526.8,2231.9 527.1,2228.1 527.5,2224.3 527.8,2220.4 528.2,2216.6 528.6,2212.8 529.0,2209.0 529.3,2205.2 529.7,2201.4 530.1,2197.5 530.5,2193.7 530.8,2189.9 531.2,2186.1 531.6,2182.3 532.0,2178.5 532.4,2174.7 532.8,2170.9 533.2,2167.2 533.6,2163.4 534.0,2159.6 534.4,2155.8 534.8,2152.0 535.2,2148.2 535.6,2144.5 536.0,2140.7 536.4,2136.9 536.9,2133.1 537.3,2129.4 537.7,2125.6 538.1,2121.8 538.5,2118.1 539.0,2114.3 539.4,2110.6 539.8,2106.8 540.2,2103.0 540.7,2099.3 541.1,2095.5 541.5,2091.8 542.0,2088.1 542.4,2084.3 542.8,2080.6 543.3,2076.8 543.7,2073.1 544.2,2069.4 544.6,2065.6 545.1,2061.9 545.5,2058.2 545.9,2054.4 546.4,2050.7 546.8,2047.0 547.3,2043.3 547.7,2039.5 548.2,2035.8 548.7,2032.1 549.1,2028.4 549.6,2024.7 550.0,2021.0 550.5,2017.2 550.9,2013.5 551.4,2009.8 551.9,2006.1 552.3,2002.4 552.8,1998.7 553.3,1995.0 553.7,1991.3 554.2,1987.6 554.7,1983.9 555.1,1980.2 555.6,1976.5 556.1,1972.9 556.5,1969.2 557.0,1965.5 557.5,1961.8 558.0,1958.1 558.4,1954.4 558.9,1950.7 559.4,1947.1 560.0,2007.5 559.7,2012.1 559.8,2016.0 560.0,2019.9 560.2,2023.8 560.4,2027.7 560.6,2031.6 560.8,2035.5 561.0,2039.3 561.2,2043.2 561.4,2047.1 561.7,2051.0 561.9,2054.9 562.2,2058.7 562.4,2062.6 562.7,2066.5 563.0,2070.3 563.2,2074.2 563.5,2078.0 563.8,2081.9 564.1,2085.7 564.4,2089.6 564.7,2093.4 565.1,2097.2 565.4,2101.1 565.7,2104.9 566.0,2108.7 566.4,2112.5 566.7,2116.4 567.1,2120.2 567.4,2124.0 567.8,2127.8 568.1,2131.6 568.5,2135.4 568.9,2139.2 569.3,2143.0 569.6,2146.8 570.0,2150.6 570.4,2154.4 570.8,2158.2 571.2,2162.0 571.6,2165.8 572.0,2169.5 572.4,2173.3 572.8,2177.1 573.2,2180.9 573.6,2184.6 574.0,2188.4 574.4,2192.2 574.9,2195.9 575.3,2199.7 575.7,2203.4 576.1,2207.2 576.5,2210.9 577.0,2214.7 577.4,2218.4 577.8,2222.2 578.2,2225.9 578.7,2229.6 579.1,2233.4 579.5,2237.1 579.9,2240.8 580.4,2244.6 580.8,2248.3 581.2,2252.0 581.7,2255.7 582.1,2259.4 582.5,2263.2 583.0,2266.9 583.4,2270.6 583.8,2274.3 584.3,2278.0 584.7,2281.7 585.1,2285.4 585.6,2289.1 586.0,2292.8 586.5,2296.5 586.9,2300.2 587.3,2303.9 587.8,2307.6 588.2,2311.3 588.7,2315.0 589.1,2318.6 589.6,2322.3 590.0,2326.0 590.5,2329.7 590.9,2333.4 591.4,2337.0 591.8,2340.7 592.3,2344.4 592.7,2348.1 593.2,2351.7 593.7,2355.4 594.1,2359.1 594.6,2362.7 595.0,2366.4 595.5,2370.0 596.0,2373.7 596.4,2377.4 596.9,2381.0 597.4,2384.7 597.9,2388.3 598.3,2392.0 598.8,2395.6 599.3,2399.3 599.8,2402.9 600.2,2406.6 600.7,2410.2 601.2,2413.9 601.7,2417.5 602.2,2421.1 602.7,2424.8 603.2,2428.4 603.7,2432.0 604.2,2435.7 604.7,2439.3 605.2,2443.0 605.7,2446.6 606.2,2450.2 607.0,2453.2 607.6,2398.9 608.3,2395.3 608.5,2391.4 608.7,2387.4 609.0,2383.5 609.2,2379.6 609.5,2375.6 609.7,2371.7 610.0,2367.7 610.2,2363.8 610.5,2359.9 610.8,2356.0 611.0,2352.0 611.3,2348.1 611.6,2344.2 611.9,2340.3 612.1,2336.4 612.4,2332.5 612.7,2328.6 613.0,2324.7 613.3,2320.8 613.6,2316.9 613.9,2313.0 614.2,2309.1 614.5,2305.2 614.8,2301.3 615.1,2297.5 615.4,2293.6 615.8,2289.7 616.1,2285.8 616.4,2282.0 616.7,2278.1 617.1,2274.2 617.4,2270.4 617.7,2266.5 618.1,2262.7 618.4,2258.8 618.7,2255.0 619.1,2251.1 619.4,2247.3 619.8,2243.4 620.1,2239.6 620.5,2235.8 620.9,2231.9 621.2,2228.1 621.6,2224.3 621.9,2220.4 622.3,2216.6 622.7,2212.8 623.1,2209.0 623.4,2205.2 623.8,2201.4 624.2,2197.5 624.6,2193.7 624.9,2189.9 625.3,2186.1 625.7,2182.3 626.1,2178.5 626.5,2174.7 626.9,2170.9 627.3,2167.2 627.7,2163.4 628.1,2159.6 628.5,2155.8 628.9,2152.0 629.3,2148.2 629.7,2144.5 630.1,2140.7 630.5,2136.9 631.0,2133.1 631.4,2129.4 631.8,2125.6 632.2,2121.8 632.6,2118.1 633.1,2114.3 633.5,2110.6 633.9,2106.8 634.3,2103.0 634.8,2099.3 635.2,2095.5 635.6,2091.8 636.1,2088.1 636.5,2084.3 636.9,2080.6 637.4,2076.8 637.8,2073.1 638.3,2069.4 638.7,2065.6 639.2,2061.9 639.6,2058.2 640.0,2054.4 640.5,2050.7 640.9,2047.0 641.4,2043.3 641.8,2039.5 642.3,2035.8 642.8,2032.1 643.2,2028.4 643.7,2024.7 644.1,2021.0 644.6,2017.2 645.0,2013.5 645.5,2009.8 646.0,2006.1 646.4,2002.4 646.9,1998.7 647.4,1995.0 647.8,1991.3 648.3,1987.6 648.8,1983.9 649.2,1980.2 649.7,1976.5 650.2,1972.9 650.6,1969.2 651.1,1965.5 651.6,1961.8 652.1,1958.1 652.5,1954.4 653.0,1950.7 653.5,1947.1 654.1,2007.5 653.8,2012.1 653.9,2016.0 654.1,2019.9 654.3,2023.8 654.5,2027.7 654.7,2031.6 654.9,2035.5 655.1,2039.3 655.3,2043.2 655.5,2047.1 655.8,2051.0 656.0,2054.9 656.3,2058.7 656.6,2062.6 656.8,2066.5 657.1,2070.3 657.4,2074.2 657.7,2078.0 658.0,2081.9 658.3,2085.7 658.6,2089.6 658.9,2093.4 659.2,2097.2 659.5,2101.1 659.9,2104.9 660.2,2108.7 660.5,2112.5 660.9,2116.4 661.2,2120.2 661.6,2124.0 662.0,2127.8 662.3,2131.6 662.7,2135.4 663.1,2139.2 663.5,2143.0 663.8,2146.8 664.2,2150.6 664.6,2154.4 665.0,2158.2 665.4,2162.0 665.8,2165.8 666.2,2169.5 666.6,2173.3 667.0,2177.1 667.4,2180.9 667.9,2184.6 668.3,2188.4 668.7,2192.2 669.1,2195.9 669.5,2199.7 670.0,2203.4 670.4,2207.2 670.8,2210.9 671.2,2214.7 671.7,2218.4 672.1,2222.2 672.5,2225.9 673.0,2229.6 673.4,2233.4 673.8,2237.1 674.3,2240.8 674.7,2244.6 675.1,2248.3 675.6,2252.0 676.0,2255.7 676.4,2259.4 676.9,2263.2 677.3,2266.9 677.7,2270.6 678.2,2274.3 678.6,2278.0 679.1,2281.7 679.5,2285.4 680.0,2289.1 680.4,2292.8 680.8,2296.5 681.3,2300.2 681.7,2303.9 682.2,2307.6 682.6,2311.3 683.1,2315.0 683.5,2318.6 684.0,2322.3 684.4,2326.0 684.9,2329.7 685.4,2333.4 685.8,2337.0 686.3,2340.7 686.7,2344.4 687.2,2348.1 687.7,2351.7 688.1,2355.4 688.6,2359.1 689.0,2362.7 689.5,2366.4 690.0,2370.0 690.5,2373.7 690.9,2377.4 691.4,2381.0 691.9,2384.7 692.4,2388.3 692.8,2392.0 693.3,2395.6 693.8,2399.3 694.3,2402.9 694.8,2406.6 695.3,2410.2 695.8,2413.9 696.2,2417.5 696.7,2421.1 697.2,2424.8 697.7,2428.4 698.2,2432.0 698.7,2435.7 699.2,2439.3 699.7,2443.0 700.2,2446.6 700.8,2450.2 701.6,2453.2" fill="none" stroke="#008000" stroke-width="10" stroke-linejoin="round" stroke-linecap="round"/>
<polyline points="787.3,2372.0 787.6,2361.0 787.9,2350.1 788.3,2339.1 788.7,2328.2 789.2,2317.2 789.8,2306.3 790.4,2295.3 791.1,2284.4 791.8,2273.5 792.6,2262.6 793.5,2251.6 794.4,2240.7 795.4,2229.8 796.4,2218.9 797.4,2208.0 798.5,2197.1 799.6,2186.2 800.8,2175.3 802.0,2164.4 803.3,2153.5 804.5,2142.6 805.8,2131.7 807.2,2120.8 808.5,2109.9 809.9,2099.1 811.3,2088.2 812.7,2077.3 814.2,2066.5 815.6,2055.6 817.1,2044.7 818.6,2033.9 820.0,2023.0 821.5,2012.1 823.0,2001.3 824.5,1990.4 826.0,1979.6 827.5,1968.7 829.0,1957.9 830.7,1947.0 831.3,2007.5 830.9,2012.1 831.1,2016.0 831.3,2019.9 831.5,2023.8 831.7,2027.7 831.9,2031.6 832.2,2035.5 832.4,2039.3 832.7,2043.2 832.9,2047.1 833.2,2051.0 833.5,2054.9 833.8,2058.7 834.0,2062.6 834.3,2066.5 834.7,2070.3 835.0,2074.2 835.3,2078.0 835.6,2081.9 836.0,2085.7 836.3,2089.6 836.7,2093.4 837.0,2097.2 837.4,2101.1 837.8,2104.9 838.1,2108.7 838.5,2112.5 838.9,2116.4 839.3,2120.2 839.7,2124.0 840.1,2127.8 840.5,2131.6 840.9,2135.4 841.4,2139.2 841.8,2143.0 842.2,2146.8 842.6,2150.6 843.1,2154.4 843.5,2158.2 844.0,2162.0 844.4,2165.8 844.9,2169.5 845.3,2173.3 845.8,2177.1 846.2,2180.9 846.7,2184.6 847.2,2188.4 847.6,2192.2 848.1,2195.9 848.6,2199.7 849.1,2203.4 849.5,2207.2 850.0,2210.9 850.5,2214.7 851.0,2218.4 851.5,2222.2 851.9,2225.9 852.4,2229.6 852.9,2233.4 853.4,2237.1 853.9,2240.8 854.4,2244.6 854.9,2248.3 855.3,2252.0 855.8,2255.7 856.3,2259.4 856.8,2263.2 857.3,2266.9 857.8,2270.6 858.3,2274.3 858.8,2278.0 859.3,2281.7 859.8,2285.4 860.3,2289.1 860.8,2292.8 861.3,2296.5 861.8,2300.2 862.3,2303.9 862.8,2307.6 863.3,2311.3 863.8,2315.0 864.3,2318.6 864.8,2322.3 865.3,2326.0 865.8,2329.7 866.3,2333.4 866.8,2337.0 867.3,2340.7 867.8,2344.4 868.4,2348.1 868.9,2351.7 869.4,2355.4 869.9,2359.1 870.4,2362.7 871.0,2366.4 871.5,2370.0 872.0,2373.7 872.6,2377.4 873.1,2381.0 873.6,2384.7 874.2,2388.3 874.7,2392.0 875.2,2395.6 875.8,2399.3 876.3,2402.9 876.9,2406.6 877.4,2410.2 877.9,2413.9 878.5,2417.5 879.1,2421.1 879.6,2424.8 880.2,2428.4 880.7,2432.0 881.3,2435.7 881.8,2439.3 882.4,2443.0 883.0,2446.6 883.6,2450.2 884.5,2453.2 885.1,2398.9 885.8,2395.3 886.0,2391.4 886.3,2387.4 886.5,2383.5 886.8,2379.6 887.0,2375.6 887.3,2371.7 887.6,2367.7 887.8,2363.8 888.1,2359.9 888.4,2356.0 888.7,2352.0 889.0,2348.1 889.2,2344.2 889.5,2340.3 889.8,2336.4 890.1,2332.5 890.4,2328.6 890.7,2324.7 891.0,2320.8 891.3,2316.9 891.7,2313.0 892.0,2309.1 892.3,2305.2 892.6,2301.3 892.9,2297.5 893.3,2293.6 893.6,2289.7 893.9,2285.8 894.3,2282.0 894.6,2278.1 895.0,2274.2 895.3,2270.4 895.7,2266.5 896.0,2262.7 896.4,2258.8 896.7,2255.0 897.1,2251.1 897.4,2247.3 897.8,2243.4 898.2,2239.6 898.6,2235.8 898.9,2231.9 899.3,2228.1 899.7,2224.3 900.1,2220.4 900.4,2216.6 900.8,2212.8 901.2,2209.0 901.6,2205.2 902.0,2201.4 902.4,2197.5 902.8,2193.7 903.2,2189.9 903.6,2186.1 904.0,2182.3 904.4,2178.5 904.8,2174.7 905.2,2170.9 905.7,2167.2 906.1,2163.4 906.5,2159.6 906.9,2155.8 907.3,2152.0 907.8,2148.2 908.2,2144.5 908.6,2140.7 909.0,2136.9 909.5,2133.1 909.9,2129.4 910.3,2125.6 910.8,2121.8 911.2,2118.1 911.7,2114.3 912.1,2110.6 912.6,2106.8 913.0,2103.0 913.5,2099.3 913.9,2095.5 914.4,2091.8 914.8,2088.1 915.3,2084.3 915.7,2080.6 916.2,2076.8 916.6,2073.1 917.1,2069.4 917.6,2065.6 918.0,2061.9 918.5,2058.2 919.0,2054.4 919.4,2050.7 919.9,2047.0 920.4,2043.3 920.8,2039.5 921.3,2035.8 921.8,2032.1 922.3,2028.4 922.7,2024.7 923.2,2021.0 923.7,2017.2 924.2,2013.5 924.7,2009.8 925.1,2006.1 925.6,2002.4 926.1,1998.7 926.6,1995.0 927.1,1991.3 927.6,1987.6 928.1,1983.9 928.5,1980.2 929.0,1976.5 929.5,1972.9 930.0,1969.2 930.5,1965.5 931.0,1961.8 931.5,1958.1 932.0,1954.4 932.5,1950.7 933.0,1947.1 933.6,2007.5 933.2,2012.1 933.4,2016.0 933.6,2019.9 933.8,2023.8 934.0,2027.7 934.2,2031.6 934.5,2035.5 934.7,2039.3 935.0,2043.2 935.2,2047.1 935.5,2051.0 935.8,2054.9 936.1,2058.7 936.4,2062.6 936.7,2066.5 937.0,2070.3 937.3,2074.2 937.6,2078.0 938.0,2081.9 938.3,2085.7 938.6,2089.6 939.0,2093.4 939.4,2097.2 939.7,2101.1 940.1,2104.9 940.5,2108.7 940.9,2112.5 941.2,2116.4 941.6,2120.2 942.0,2124.0 942.5,2127.8 942.9,2131.6 943.3,2135.4 943.7,2139.2 944.1,2143.0 944.6,2146.8 945.0,2150.6 945.4,2154.4 945.9,2158.2 946.3,2162.0 946.8,2165.8 947.2,2169.5 947.7,2173.3 948.2,2177.1 948.6,2180.9 949.1,2184.6 949.6,2188.4 950.0,2192.2 950.5,2195.9 951.0,2199.7 951.5,2203.4 951.9,2207.2 952.4,2210.9 952.9,2214.7 953.4,2218.4 953.9,2222.2 954.4,2225.9 954.8,2229.6 955.3,2233.4 955.8,2237.1 956.3,2240.8 956.8,2244.6 957.3,2248.3 957.8,2252.0 958.3,2255.7 958.8,2259.4 959.2,2263.2 959.7,2266.9 960.2,2270.6 960.7,2274.3 961.2,2278.0 961.7,2281.7 962.2,2285.4 962.7,2289.1 963.2,2292.8 963.7,2296.5 964.2,2300.2 964.7,2303.9 965.2,2307.6 965.7,2311.3 966.2,2315.0 966.8,2318.6 967.3,2322.3 967.8,2326.0 968.3,2329.7 968.8,2333.4 969.3,2337.0 969.8,2340.7 970.4,2344.4 970.9,2348.1 971.4,2351.7 971.9,2355.4 972.4,2359.1 973.0,2362.7 973.5,2366.4 974.0,2370.0 974.6,2373.7 975.1,2377.4 975.6,2381.0 976.2,2384.7 976.7,2388.3 977.2,2392.0 977.8,2395.6 978.3,2399.3 978.9,2402.9 979.4,2406.6 980.0,2410.2 980.5,2413.9 981.1,2417.5 981.6,2421.1 982.2,2424.8 982.7,2428.4 983.3,2432.0 983.9,2435.7 984.4,2439.3 985.0,2443.0 985.6,2446.6 986.1,2450.2 987.1,2453.2 987.7,2398.9 988.4,2395.3 988.6,2391.4 988.9,2387.4 989.1,2383.5 989.4,2379.6 989.6,2375.6 989.9,2371.7 990.2,2367.7 990.4,2363.8 990.7,2359.9 991.0,2356.0 991.3,2352.0 991.6,2348.1 991.8,2344.2 992.1,2340.3 992.4,2336.4 992.7,2332.5 993.0,2328.6 993.3,2324.7 993.6,2320.8 993.9,2316.9 994.3,2313.0 994.6,2309.1 994.9,2305.2 995.2,2301.3 995.5,2297.5 995.9,2293.6 996.2,2289.7 996.5,2285.8 996.9,2282.0 997.2,2278.1 997.6,2274.2 997.9,2270.4 998.3,2266.5 998.6,2262.7 999.0,2258.8 999.3,2255.0 999.7,2251.1 1000.0,2247.3 1000.4,2243.4 1000.8,2239.6 1001.2,2235.8 1001.5,2231.9 1001.9,2228.1 1002.3,2224.3 1002.7,2220.4 1003.0,2216.6 1003.4,2212.8 1003.8,2209.0 1004.2,2205.2 1004.6,2201.4 1005.0,2197.5 1005.4,2193.7 1005.8,2189.9 1006.2,2186.1 1006.6,2182.3 1007.0,2178.5 1007.4,2174.7 1007.8,2170.9 1008.3,2167.2 1008.7,2163.4 1009.1,2159.6 1009.5,2155.8 1009.9,2152.0 1010.4,2148.2 1010.8,2144.5 1011.2,2140.7 1011.6,2136.9 1012.1,2133.1 1012.5,2129.4 1012.9,2125.6 1013.4,2121.8 1013.8,2118.1 1014.3,2114.3 1014.7,2110.6 1015.2,2106.8 1015.6,2103.0 1016.1,2099.3 1016.5,2095.5 1017.0,2091.8 1017.4,2088.1 1017.9,2084.3 1018.3,2080.6 1018.8,2076.8 1019.2,2073.1 1019.7,2069.4 1020.2,2065.6 1020.6,2061.9 1021.1,2058.2 1021.6,2054.4 1022.0,2050.7 1022.5,2047.0 1023.0,2043.3 1023.4,2039.5 1023.9,2035.8 1024.4,2032.1 1024.9,2028.4 1025.3,2024.7 1025.8,2021.0 1026.3,2017.2 1026.8,2013.5 1027.3,2009.8 1027.7,2006.1 1028.2,2002.4 1028.7,1998.7 1029.2,1995.0 1029.7,1991.3 1030.2,1987.6 1030.7,1983.9 1031.1,1980.2 1031.6,1976.5 1032.1,1972.9 1032.6,1969.2 1033.1,1965.5 1033.6,1961.8 1034.1,1958.1 1034.6,1954.4 1035.1,1950.7 1035.6,1947.1 1036.2,2007.5 1035.8,2012.1 1036.0,2016.0 1036.2,2019.9 1036.4,2023.8 1036.6,2027.7 1036.8,2031.6 1037.1,2035.5 1037.3,2039.3 1037.6,2043.2 1037.8,2047.1 1038.1,2051.0 1038.4,2054.9 1038.7,2058.7 1038.9,2062.6 1039.2,2066.5 1039.6,2070.3 1039.9,2074.2 1040.2,2078.0 1040.5,2081.9 1040.9,2085.7 1041.2,2089.6 1041.6,2093.4 1041.9,2097.2 1042.3,2101.1 1042.7,2104.9 1043.0,2108.7 1043.4,2112.5 1043.8,2116.4 1044.2,2120.2 1044.6,2124.0 1045.0,2127.8 1045.4,2131.6 1045.8,2135.4 1046.3,2139.2 1046.7,2143.0 1047.1,2146.8 1047.5,2150.6 1048.0,2154.4 1048.4,2158.2 1048.9,2162.0 1049.3,2165.8 1049.8,2169.5 1050.2,2173.3 1050.7,2177.1 1051.1,2180.9 1051.6,2184.6 1052.1,2188.4 1052.5,2192.2 1053.0,2195.9 1053.5,2199.7 1054.0,2203.4 1054.4,2207.2 1054.9,2210.9 1055.4,2214.7 1055.9,2218.4 1056.4,2222.2 1056.8,2225.9 1057.3,2229.6 1057.8,2233.4 1058.3,2237.1 1058.8,2240.8 1059.3,2244.6 1059.8,2248.3 1060.2,2252.0 1060.7,2255.7 1061.2,2259.4 1061.7,2263.2 1062.2,2266.9 1062.7,2270.6 1063.2,2274.3 1063.7,2278.0 1064.2,2281.7 1064.7,2285.4 1065.2,2289.1 1065.7,2292.8 1066.2,2296.5 1066.7,2300.2 1067.2,2303.9 1067.7,2307.6 1068.2,2311.3 1068.7,2315.0 1069.2,2318.6 1069.7,2322.3 1070.2,2326.0 1070.7,2329.7 1071.2,2333.4 1071.7,2337.0 1072.2,2340.7 1072.7,2344.4 1073.3,2348.1 1073.8,2351.7 1074.3,2355.4 1074.8,2359.1 1075.3,2362.7 1075.9,2366.4 1076.4,2370.0 1076.9,2373.7 1077.5,2377.4 1078.0,2381.0 1078.5,2384.7 1079.1,2388.3 1079.6,2392.0 1080.1,2395.6 1080.7,2399.3 1081.2,2402.9 1081.8,2406.6 1082.3,2410.2 1082.8,2413.9 1083.4,2417.5 1084.0,2421.1 1084.5,2424.8 1085.1,2428.4 1085.6,2432.0 1086.2,2435.7 1086.7,2439.3 1087.3,2443.0 1087.9,2446.6 1088.5,2450.2 1089.4,2453.2 1090.0,2398.9 1090.7,2395.3 1090.9,2391.4 1091.2,2387.4 1091.4,2383.5 1091.7,2379.6 1091.9,2375.6 1092.2,2371.7 1092.4,2367.7 1092.7,2363.8 1093.0,2359.9 1093.2,2356.0 1093.5,2352.0 1093.8,2348.1 1094.1,2344.2 1094.4,2340.3 1094.6,2336.4 1094.9,2332.5 1095.2,2328.6 1095.5,2324.7 1095.8,2320.8 1096.1,2316.9 1096.4,2313.0 1096.7,2309.1 1097.1,2305.2 1097.4,2301.3 1097.7,2297.5 1098.0,2293.6 1098.3,2289.7 1098.7,2285.8 1099.0,2282.0 1099.3,2278.1 1099.7,2274.2 1100.0,2270.4 1100.4,2266.5 1100.7,2262.7 1101.1,2258.8 1101.4,2255.0 1101.8,2251.1 1102.1,2247.3 1102.5,2243.4 1102.8,2239.6 1103.2,2235.8 1103.6,2231.9 1103.9,2228.1 1104.3,2224.3 1104.7,2220.4 1105.1,2216.6 1105.4,2212.8 1105.8,2209.0 1106.2,2205.2 1106.6,2201.4 1107.0,2197.5 1107.4,2193.7 1107.8,2189.9 1108.2,2186.1 1108.6,2182.3 1109.0,2178.5 1109.4,2174.7 1109.8,2170.9 1110.2,2167.2 1110.6,2163.4 1111.0,2159.6 1111.4,2155.8 1111.8,2152.0 1112.2,2148.2 1112.7,2144.5 1113.1,2140.7 1113.5,2136.9 1113.9,2133.1 1114.3,2129.4 1114.8,2125.6 1115.2,2121.8 1115.6,2118.1 1116.1,2114.3 1116.5,2110.6 1116.9,2106.8 1117.4,2103.0 1117.8,2099.3 1118.3,2095.5 1118.7,2091.8 1119.1,2088.1 1119.6,2084.3 1120.0,2080.6 1120.5,2076.8 1120.9,2073.1 1121.4,2069.4 1121.9,2065.6 1122.3,2061.9 1122.8,2058.2 1123.2,2054.4 1123.7,2050.7 1124.1,2047.0 1124.6,2043.3 1125.1,2039.5 1125.5,2035.8 1126.0,2032.1 1126.5,2028.4 1126.9,2024.7 1127.4,2021.0 1127.9,2017.2 1128.3,2013.5 1128.8,2009.8 1129.3,2006.1 1129.8,2002.4 1130.2,1998.7 1130.7,1995.0 1131.2,1991.3 1131.7,1987.6 1132.1,1983.9 1132.6,1980.2 1133.1,1976.5 1133.6,1972.9 1134.1,1969.2 1134.6,1965.5 1135.0,1961.8 1135.5,1958.1 1136.0,1954.4 1136.5,1950.7 1137.0,1947.1 1137.6,2007.5 1137.2,2012.1 1137.4,2016.0 1137.6,2019.9 1137.8,2023.8 1138.0,2027.7 1138.2,2031.6 1138.5,2035.5 1138.7,2039.3 1139.0,2043.2 1139.2,2047.1 1139.5,2051.0 1139.8,2054.9 1140.1,2058.7 1140.4,2062.6 1140.7,2066.5 1141.0,2070.3 1141.3,2074.2 1141.7,2078.0 1142.0,2081.9 1142.3,2085.7 1142.7,2089.6 1143.0,2093.4 1143.4,2097.2 1143.8,2101.1 1144.2,2104.9 1144.5,2108.7 1144.9,2112.5 1145.3,2116.4 1145.7,2120.2 1146.1,2124.0 1146.5,2127.8 1147.0,2131.6 1147.4,2135.4 1147.8,2139.2 1148.2,2143.0 1148.7,2146.8 1149.1,2150.6 1149.6,2154.4 1150.0,2158.2 1150.5,2162.0 1150.9,2165.8 1151.4,2169.5 1151.8,2173.3 1152.3,2177.1 1152.8,2180.9 1153.2,2184.6 1153.7,2188.4 1154.2,2192.2 1154.7,2195.9 1155.1,2199.7 1155.6,2203.4 1156.1,2207.2 1156.6,2210.9 1157.1,2214.7 1157.6,2218.4 1158.1,2222.2 1158.6,2225.9 1159.0,2229.6 1159.5,2233.4 1160.0,2237.1 1160.5,2240.8 1161.0,2244.6 1161.5,2248.3 1162.0,2252.0 1162.5,2255.7 1163.0,2259.4 1163.5,2263.2 1164.0,2266.9 1164.5,2270.6 1165.0,2274.3 1165.5,2278.0 1166.0,2281.7 1166.5,2285.4 1167.0,2289.1 1167.5,2292.8 1168.0,2296.5 1168.5,2300.2 1169.0,2303.9 1169.5,2307.6 1170.0,2311.3 1170.6,2315.0 1171.1,2318.6 1171.6,2322.3 1172.1,2326.0 1172.6,2329.7 1173.1,2333.4 1173.7,2337.0 1174.2,2340.7 1174.7,2344.4 1175.2,2348.1 1175.7,2351.7 1176.3,2355.4 1176.8,2359.1 1177.3,2362.7 1177.9,2366.4 1178.4,2370.0 1178.9,2373.7 1179.5,2377.4 1180.0,2381.0 1180.6,2384.7 1181.1,2388.3 1181.6,2392.0 1182.2,2395.6 1182.7,2399.3 1183.3,2402.9 1183.8,2406.6 1184.4,2410.2 1184.9,2413.9 1185.5,2417.5 1186.1,2421.1 1186.6,2424.8 1187.2,2428.4 1187.8,2432.0 1188.3,2435.7 1188.9,2439.3 1189.5,2443.0 1190.1,2446.6 1190.6,2450.2 1191.6,2453.2 1192.2,2398.9 1192.8,2395.3 1193.0,2391.4 1193.2,2387.4 1193.5,2383.5 1193.7,2379.6 1193.9,2375.6 1194.2,2371.7 1194.4,2367.7 1194.6,2363.8 1194.9,2359.9 1195.1,2356.0 1195.4,2352.0 1195.6,2348.1 1195.9,2344.2 1196.1,2340.3 1196.4,2336.4 1196.7,2332.5 1196.9,2328.6 1197.2,2324.7 1197.5,2320.8 1197.8,2316.9 1198.0,2313.0 1198.3,2309.1 1198.6,2305.2 1198.9,2301.3 1199.2,2297.5 1199.5,2293.6 1199.8,2289.7 1200.1,2285.8 1200.4,2282.0 1200.7,2278.1 1201.0,2274.2 1201.3,2270.4 1201.6,2266.5 1201.9,2262.7 1202.2,2258.8 1202.5,2255.0 1202.9,2251.1 1203.2,2247.3 1203.5,2243.4 1203.8,2239.6 1204.2,2235.8 1204.5,2231.9 1204.8,2228.1 1205.2,2224.3 1205.5,2220.4 1205.9,2216.6 1206.2,2212.8 1206.5,2209.0 1206.9,2205.2 1207.2,2201.4 1207.6,2197.5 1207.9,2193.7 1208.3,2189.9 1208.7,2186.1 1209.0,2182.3 1209.4,2178.5 1209.7,2174.7 1210.1,2170.9 1210.5,2167.2 1210.9,2163.4 1211.2,2159.6 1211.6,2155.8 1212.0,2152.0 1212.4,2148.2 1212.7,2144.5 1213.1,2140.7 1213.5,2136.9 1213.9,2133.1 1214.3,2129.4 1214.7,2125.6 1215.0,2121.8 1215.4,2118.1 1215.8,2114.3 1216.2,2110.6 1216.6,2106.8 1217.0,2103.0 1217.4,2099.3 1217.8,2095.5 1218.2,2091.8 1218.6,2088.1 1219.0,2084.3 1219.4,2080.6 1219.8,2076.8 1220.2,2073.1 1220.7,2069.4 1221.1,2065.6 1221.5,2061.9 1221.9,2058.2 1222.3,2054.4 1222.7,2050.7 1223.1,2047.0 1223.6,2043.3 1224.0,2039.5 1224.4,2035.8 1224.8,2032.1 1225.3,2028.4 1225.7,2024.7 1226.1,2021.0 1226.5,2017.2 1227.0,2013.5 1227.4,2009.8 1227.8,2006.1 1228.2,2002.4 1228.7,1998.7 1229.1,1995.0 1229.5,1991.3 1230.0,1987.6 1230.4,1983.9 1230.8,1980.2 1231.3,1976.5 1231.7,1972.9 1232.1,1969.2 1232.6,1965.5 1233.0,1961.8 1233.5,1958.1 1233.9,1954.4 1234.3,1950.7 1234.8,1947.1 1235.4,2007.5 1235.1,2012.1 1235.2,2016.0 1235.4,2019.9 1235.6,2023.8 1235.8,2027.7 1236.0,2031.6 1236.2,2035.5 1236.4,2039.3 1236.6,2043.2 1236.8,2047.1 1237.1,2051.0 1237.3,2054.9 1237.6,2058.7 1237.8,2062.6 1238.1,2066.5 1238.3,2070.3 1238.6,2074.2 1238.9,2078.0 1239.2,2081.9 1239.5,2085.7 1239.8,2089.6 1240.1,2093.4 1240.4,2097.2 1240.7,2101.1 1241.1,2104.9 1241.4,2108.7 1241.7,2112.5 1242.1,2116.4 1242.4,2120.2 1242.8,2124.0 1243.1,2127.8 1243.5,2131.6 1243.9,2135.4 1244.2,2139.2 1244.6,2143.0 1245.0,2146.8 1245.4,2150.6 1245.7,2154.4 1246.1,2158.2 1246.5,2162.0 1246.9,2165.8 1247.3,2169.5 1247.7,2173.3 1248.1,2177.1 1248.5,2180.9 1248.9,2184.6 1249.3,2188.4 1249.7,2192.2 1250.2,2195.9 1250.6,2199.7 1251.0,2203.4 1251.4,2207.2 1251.8,2210.9 1252.3,2214.7 1252.7,2218.4 1253.1,2222.2 1253.5,2225.9 1253.9,2229.6 1254.4,2233.4 1254.8,2237.1 1255.2,2240.8 1255.6,2244.6 1256.1,2248.3 1256.5,2252.0 1256.9,2255.7 1257.4,2259.4 1257.8,2263.2 1258.2,2266.9 1258.7,2270.6 1259.1,2274.3 1259.5,2278.0 1260.0,2281.7 1260.4,2285.4 1260.8,2289.1 1261.3,2292.8 1261.7,2296.5 1262.1,2300.2 1262.6,2303.9 1263.0,2307.6 1263.5,2311.3 1263.9,2315.0 1264.3,2318.6 1264.8,2322.3 1265.2,2326.0 1265.7,2329.7 1266.1,2333.4 1266.6,2337.0 1267.0,2340.7 1267.5,2344.4 1267.9,2348.1 1268.4,2351.7 1268.8,2355.4 1269.3,2359.1 1269.8,2362.7 1270.2,2366.4 1270.7,2370.0 1271.1,2373.7 1271.6,2377.4 1272.1,2381.0 1272.5,2384.7 1273.0,2388.3 1273.5,2392.0 1274.0,2395.6 1274.4,2399.3 1274.9,2402.9 1275.4,2406.6 1275.9,2410.2 1276.3,2413.9 1276.8,2417.5 1277.3,2421.1 1277.8,2424.8 1278.3,2428.4 1278.8,2432.0 1279.3,2435.7 1279.8,2439.3 1280.3,2443.0 1280.8,2446.6 1281.3,2450.2 1282.1,2453.2" fill="none" stroke="#008000" stroke-width="10" stroke-linejoin="round" stroke-linecap="round"/>
</g>
<defs><g id="mSqG_L"><rect x="-9.0" y="-7.7" width="18" height="15.4" fill="#008000"/></g><g id="mCiR_L"><ellipse cx="0" cy="0" rx="9.7" ry="8.3" fill="#FF0000"/></g><g id="mSqGb_L"><rect x="-9.15" y="-7.3" width="18.3" height="14.6" fill="#008000"/></g><g id="mCiB_L"><ellipse cx="0" cy="0" rx="10" ry="8.2" fill="#0000FF"/></g><g id="mTrM_L"><polygon points="0,-9.25 11.5,9.25 -11.5,9.25" fill="#FF00FF"/></g><g id="mTrK_L"><polygon points="0,8.6 11.5,-8.6 -11.5,-8.6" fill="#000000"/></g><g id="mDiR_L"><polygon points="0,-10.2 11.5,0 0,10.2 -11.5,0" fill="#FF0000"/></g></defs>
<line x1="943.9" y1="148.0" x2="1038.7" y2="148.0" stroke="#008000" stroke-width="1.6"/><use href="#mSqG_L" x="991.0" y="148.0"/>
<line x1="943.9" y1="222.4" x2="1038.7" y2="222.4" stroke="#FF0000" stroke-width="1.6"/><use href="#mCiR_L" x="991.0" y="222.4"/>
<line x1="954" y1="985.8" x2="1047.3" y2="985.8" stroke="#008000" stroke-width="1.6"/><use href="#mSqGb_L" x="1000.2" y="986.4"/>
<line x1="953.8" y1="1060.1" x2="1047.6" y2="1060.1" stroke="#0000FF" stroke-width="1.6"/><use href="#mCiB_L" x="1000.9" y="1060.6"/>
<line x1="953.8" y1="1134.7" x2="1047.6" y2="1134.7" stroke="#FF00FF" stroke-width="1.6"/><use href="#mTrM_L" x="1000.4" y="1131.75"/>
<line x1="954" y1="1207.9" x2="1047.3" y2="1207.9" stroke="#000000" stroke-width="1.6"/><use href="#mTrK_L" x="1000.4" y="1211.2"/>
<line x1="953.8" y1="1282.5" x2="1047.6" y2="1282.5" stroke="#FF0000" stroke-width="1.6"/><use href="#mDiR_L" x="1000.4" y="1282.9"/>
<line x1="336.05" y1="1897.7" x2="542.4" y2="1897.7" stroke="#FF0000" stroke-width="8.5" stroke-linecap="round"/><polygon points="541.9,1885.3 596.2,1898.15 541.9,1911.0" fill="#FF0000" stroke="#FF0000" stroke-width="3" stroke-linejoin="round"/>
<line x1="934.3" y1="1894.2" x2="1140.2" y2="1894.2" stroke="#FF0000" stroke-width="8.8" stroke-linecap="round"/><polygon points="1139.7,1881.3 1194.0,1894.35 1139.7,1907.4" fill="#FF0000" stroke="#FF0000" stroke-width="3" stroke-linejoin="round"/>
<g font-family="Liberation Serif" font-weight="bold" fill="#000"><text transform="translate(216.70,61.90) scale(1.108,1)" font-size="61.6" text-anchor="end">0.6</text><text transform="translate(216.70,180.43) scale(1.108,1)" font-size="61.6" text-anchor="end">0.4</text><text transform="translate(216.70,298.97) scale(1.108,1)" font-size="61.6" text-anchor="end">0.2</text><text transform="translate(216.70,417.50) scale(1.108,1)" font-size="61.6" text-anchor="end">0.0</text><text transform="translate(216.70,536.03) scale(1.108,1)" font-size="61.6" text-anchor="end">-0.2</text><text transform="translate(216.70,654.57) scale(1.108,1)" font-size="61.6" text-anchor="end">-0.4</text><text transform="translate(216.70,773.10) scale(1.108,1)" font-size="61.6" text-anchor="end">-0.6</text><text transform="translate(219.00,929.11) scale(1.108,1)" font-size="61.6" text-anchor="end">0.6</text><text transform="translate(219.00,1047.59) scale(1.108,1)" font-size="61.6" text-anchor="end">0.4</text><text transform="translate(219.00,1166.07) scale(1.108,1)" font-size="61.6" text-anchor="end">0.2</text><text transform="translate(219.00,1284.55) scale(1.108,1)" font-size="61.6" text-anchor="end">0.0</text><text transform="translate(219.00,1403.03) scale(1.108,1)" font-size="61.6" text-anchor="end">-0.2</text><text transform="translate(219.00,1521.51) scale(1.108,1)" font-size="61.6" text-anchor="end">-0.4</text><text transform="translate(219.00,1639.99) scale(1.108,1)" font-size="61.6" text-anchor="end">-0.6</text><text transform="translate(218.70,1811.30) scale(1.108,1)" font-size="61.6" text-anchor="end">0.8</text><text transform="translate(218.70,1912.66) scale(1.108,1)" font-size="61.6" text-anchor="end">0.6</text><text transform="translate(218.70,2014.02) scale(1.108,1)" font-size="61.6" text-anchor="end">0.4</text><text transform="translate(218.70,2115.38) scale(1.108,1)" font-size="61.6" text-anchor="end">0.2</text><text transform="translate(218.70,2216.74) scale(1.108,1)" font-size="61.6" text-anchor="end">0.0</text><text transform="translate(218.70,2318.10) scale(1.108,1)" font-size="61.6" text-anchor="end">-0.2</text><text transform="translate(218.70,2419.46) scale(1.108,1)" font-size="61.6" text-anchor="end">-0.4</text><text transform="translate(218.70,2520.82) scale(1.108,1)" font-size="61.6" text-anchor="end">-0.6</text><text transform="translate(215.94,817.60) scale(1.1080,1)" font-size="61.60" fill="#000">0</text><text transform="translate(471.21,817.60) scale(1.1080,1)" font-size="61.60" fill="#000">1000</text><text transform="translate(780.41,817.60) scale(1.1080,1)" font-size="61.60" fill="#000">2000</text><text transform="translate(1088.24,817.60) scale(1.1080,1)" font-size="61.60" fill="#000">3000</text><text transform="translate(218.84,1685.00) scale(1.1080,1)" font-size="61.60" fill="#000">0</text><text transform="translate(474.38,1685.00) scale(1.1080,1)" font-size="61.60" fill="#000">1000</text><text transform="translate(783.85,1685.00) scale(1.1080,1)" font-size="61.60" fill="#000">2000</text><text transform="translate(1091.95,1685.00) scale(1.1080,1)" font-size="61.60" fill="#000">3000</text><text transform="translate(218.84,2566.40) scale(1.1080,1)" font-size="61.60" fill="#000">0</text><text transform="translate(394.87,2566.40) scale(1.1080,1)" font-size="61.60" fill="#000">3000</text><text transform="translate(622.26,2566.40) scale(1.1080,1)" font-size="61.60" fill="#000">6000</text><text transform="translate(821.69,2566.40) scale(1.1080,1)" font-size="61.60" fill="#000">9000</text><text transform="translate(1015.52,2566.40) scale(1.1080,1)" font-size="61.60" fill="#000">12000</text><text transform="translate(1228.12,2566.40) scale(1.1080,1)" font-size="61.60" fill="#000">15000</text><text transform="translate(13.37,74.11) scale(1.1602,1)" font-size="65.67" fill="#000">(a)</text><text transform="translate(16.11,938.62) scale(1.0974,1)" font-size="66.56" fill="#000">(b)</text><text transform="translate(19.40,1810.68) scale(1.1915,1)" font-size="65.33" fill="#000">(c)</text><text transform="translate(629.88,880.00) scale(1.1285,1)" font-size="60.00" fill="#000">Time (s)</text><text transform="translate(633.18,1743.40) scale(1.1285,1)" font-size="60.00" fill="#000">Time (s)</text><text transform="translate(645.28,2640.00) scale(1.1285,1)" font-size="60.00" fill="#000">Time (s)</text><text transform="translate(72.59,536.61) rotate(-90) scale(1.0247,1)" font-size="59.11" fill="#000">Potential (V)</text><text transform="translate(75.51,1402.51) rotate(-90) scale(1.0242,1)" font-size="59.00" fill="#000">Potential (V)</text><text transform="translate(83.99,2303.71) rotate(-90) scale(1.0217,1)" font-size="59.56" fill="#000">Potential (V)</text><text transform="translate(1066.84,158.61) scale(0.9803,1)" font-size="69.40" fill="#000">N-PC</text><text transform="translate(1074.32,233.98) scale(1.0942,1)" font-size="62.09" fill="#000">AC</text><text transform="translate(1086.26,997.90) scale(1.1014,1)" font-size="59.85" fill="#000">0.2</text><text transform="translate(1189.24,997.65) scale(1.0809,1)" font-size="61.14" fill="#000">A/g</text><text transform="translate(1083.46,1072.39) scale(1.0914,1)" font-size="60.44" fill="#000">0.4</text><text transform="translate(1185.13,1071.77) scale(1.1066,1)" font-size="60.57" fill="#000">A/g</text><text transform="translate(1083.38,1146.08) scale(1.1083,1)" font-size="61.32" fill="#000">0.6</text><text transform="translate(1185.94,1145.20) scale(1.0916,1)" font-size="60.91" fill="#000">A/g</text><text transform="translate(1083.37,1220.48) scale(1.1130,1)" font-size="61.32" fill="#000">0.8</text><text transform="translate(1185.13,1219.32) scale(1.1108,1)" font-size="60.34" fill="#000">A/g</text><text transform="translate(1082.83,1294.29) scale(1.1303,1)" font-size="60.44" fill="#000">1.0</text><text transform="translate(1185.94,1293.97) scale(1.0977,1)" font-size="60.57" fill="#000">A/g</text><text transform="translate(361.68,1855.43) scale(1.1689,1)" font-size="45.11" fill="#FF0000">1-5 cycles</text><text transform="translate(865.32,1856.13) scale(1.1651,1)" font-size="45.11" fill="#FF0000">9996-10000 cycles</text></g></svg></body></html>
